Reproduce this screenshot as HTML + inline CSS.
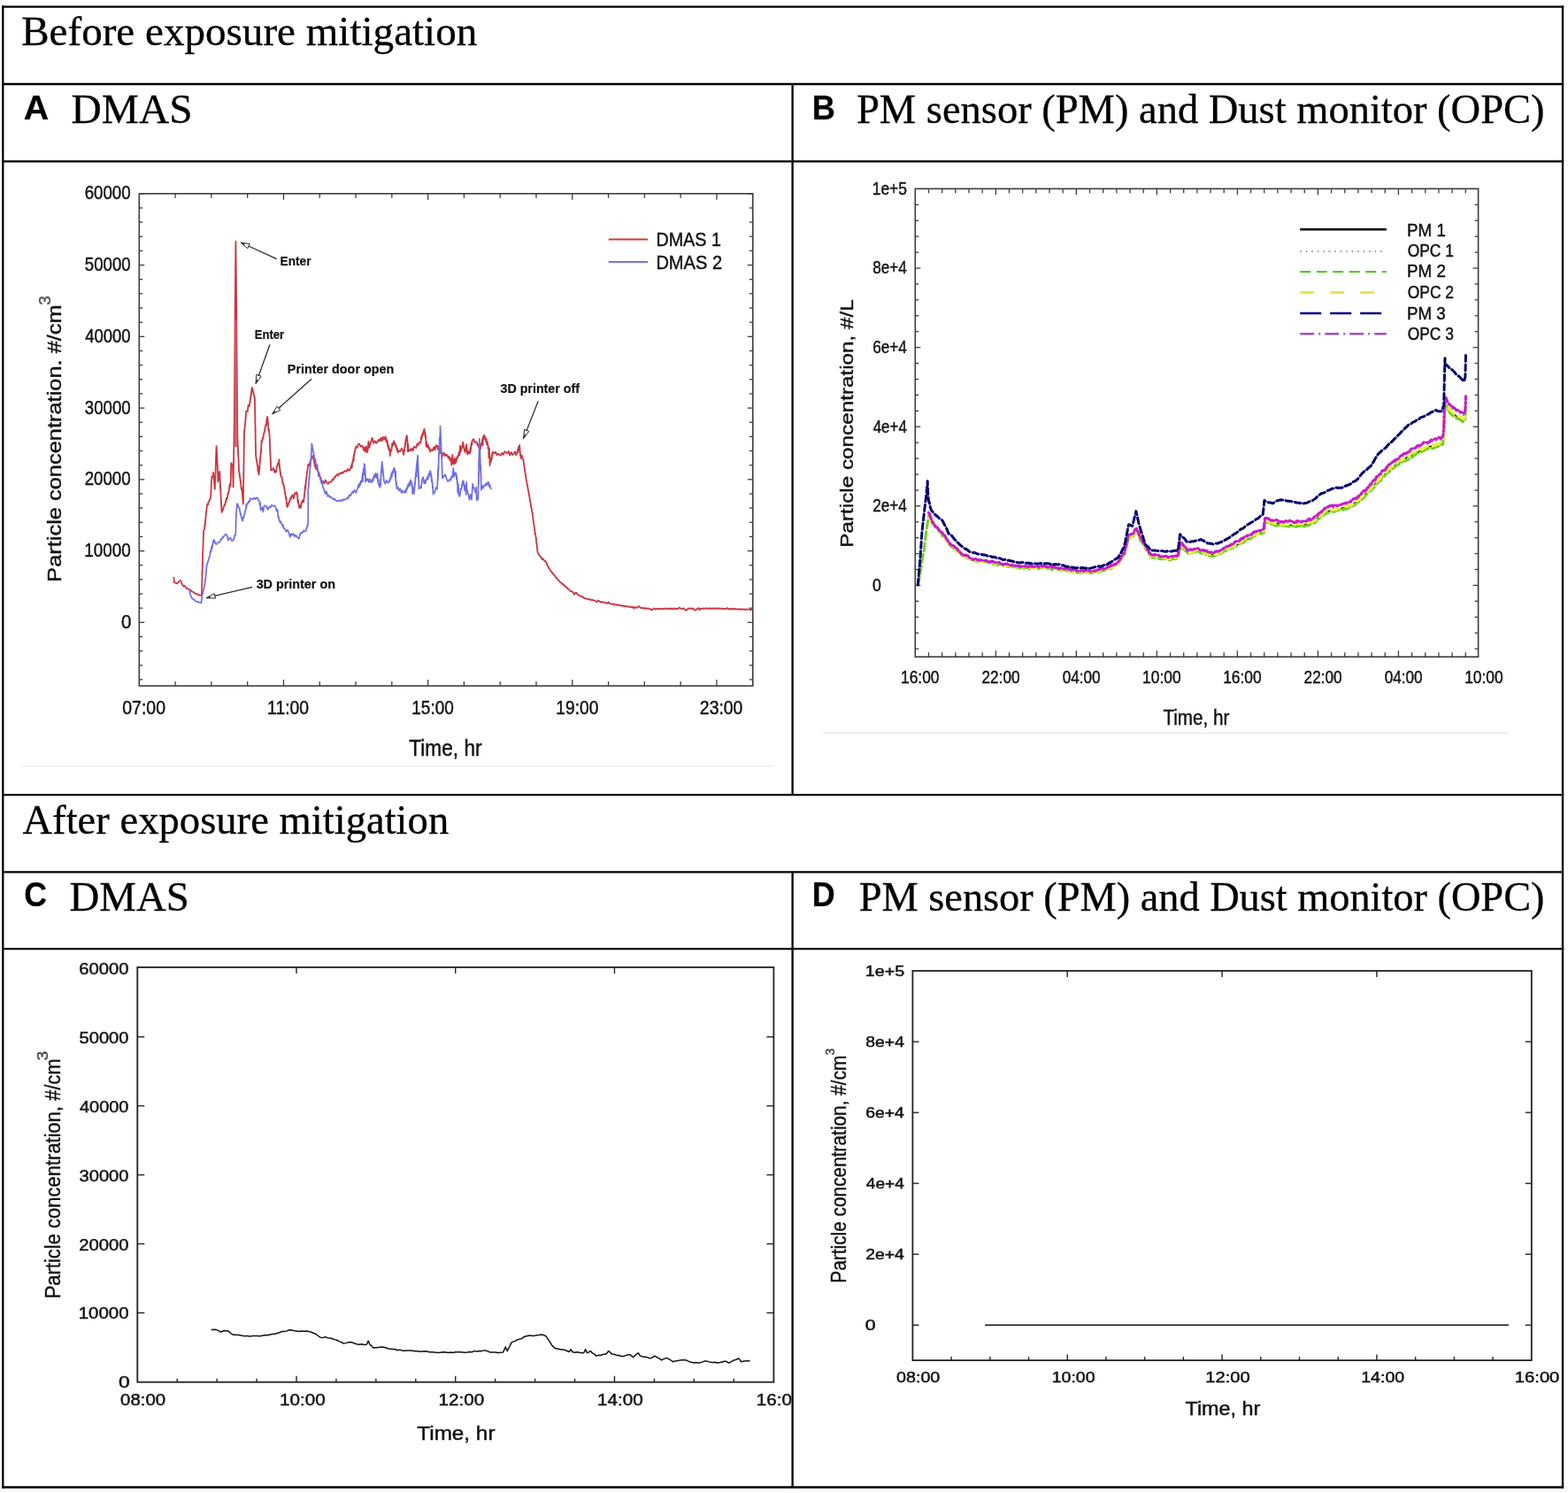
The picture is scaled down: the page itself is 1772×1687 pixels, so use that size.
<!DOCTYPE html>
<html><head><meta charset="utf-8"><title>Exposure mitigation figure</title>
<style>html,body{margin:0;padding:0;background:#fff;}svg{display:block;}</style></head>
<body><svg width="1772" height="1687" viewBox="0 0 1772 1687">
<rect x="0" y="0" width="1772" height="1687" fill="#fff"/>
<line x1="157.3" y1="767.9" x2="161.3" y2="767.9" stroke="#3c3c3c" stroke-width="1.3" />
<line x1="850.8" y1="767.9" x2="846.8" y2="767.9" stroke="#3c3c3c" stroke-width="1.3" />
<line x1="157.3" y1="751.75" x2="161.3" y2="751.75" stroke="#3c3c3c" stroke-width="1.3" />
<line x1="850.8" y1="751.75" x2="846.8" y2="751.75" stroke="#3c3c3c" stroke-width="1.3" />
<line x1="157.3" y1="735.6" x2="161.3" y2="735.6" stroke="#3c3c3c" stroke-width="1.3" />
<line x1="850.8" y1="735.6" x2="846.8" y2="735.6" stroke="#3c3c3c" stroke-width="1.3" />
<line x1="157.3" y1="719.45" x2="161.3" y2="719.45" stroke="#3c3c3c" stroke-width="1.3" />
<line x1="850.8" y1="719.45" x2="846.8" y2="719.45" stroke="#3c3c3c" stroke-width="1.3" />
<line x1="157.3" y1="703.3" x2="163.3" y2="703.3" stroke="#3c3c3c" stroke-width="1.3" />
<line x1="850.8" y1="703.3" x2="844.8" y2="703.3" stroke="#3c3c3c" stroke-width="1.3" />
<line x1="157.3" y1="687.15" x2="161.3" y2="687.15" stroke="#3c3c3c" stroke-width="1.3" />
<line x1="850.8" y1="687.15" x2="846.8" y2="687.15" stroke="#3c3c3c" stroke-width="1.3" />
<line x1="157.3" y1="671" x2="161.3" y2="671" stroke="#3c3c3c" stroke-width="1.3" />
<line x1="850.8" y1="671" x2="846.8" y2="671" stroke="#3c3c3c" stroke-width="1.3" />
<line x1="157.3" y1="654.85" x2="161.3" y2="654.85" stroke="#3c3c3c" stroke-width="1.3" />
<line x1="850.8" y1="654.85" x2="846.8" y2="654.85" stroke="#3c3c3c" stroke-width="1.3" />
<line x1="157.3" y1="638.7" x2="161.3" y2="638.7" stroke="#3c3c3c" stroke-width="1.3" />
<line x1="850.8" y1="638.7" x2="846.8" y2="638.7" stroke="#3c3c3c" stroke-width="1.3" />
<line x1="157.3" y1="622.55" x2="163.3" y2="622.55" stroke="#3c3c3c" stroke-width="1.3" />
<line x1="850.8" y1="622.55" x2="844.8" y2="622.55" stroke="#3c3c3c" stroke-width="1.3" />
<line x1="157.3" y1="606.4" x2="161.3" y2="606.4" stroke="#3c3c3c" stroke-width="1.3" />
<line x1="850.8" y1="606.4" x2="846.8" y2="606.4" stroke="#3c3c3c" stroke-width="1.3" />
<line x1="157.3" y1="590.25" x2="161.3" y2="590.25" stroke="#3c3c3c" stroke-width="1.3" />
<line x1="850.8" y1="590.25" x2="846.8" y2="590.25" stroke="#3c3c3c" stroke-width="1.3" />
<line x1="157.3" y1="574.1" x2="161.3" y2="574.1" stroke="#3c3c3c" stroke-width="1.3" />
<line x1="850.8" y1="574.1" x2="846.8" y2="574.1" stroke="#3c3c3c" stroke-width="1.3" />
<line x1="157.3" y1="557.95" x2="161.3" y2="557.95" stroke="#3c3c3c" stroke-width="1.3" />
<line x1="850.8" y1="557.95" x2="846.8" y2="557.95" stroke="#3c3c3c" stroke-width="1.3" />
<line x1="157.3" y1="541.8" x2="163.3" y2="541.8" stroke="#3c3c3c" stroke-width="1.3" />
<line x1="850.8" y1="541.8" x2="844.8" y2="541.8" stroke="#3c3c3c" stroke-width="1.3" />
<line x1="157.3" y1="525.65" x2="161.3" y2="525.65" stroke="#3c3c3c" stroke-width="1.3" />
<line x1="850.8" y1="525.65" x2="846.8" y2="525.65" stroke="#3c3c3c" stroke-width="1.3" />
<line x1="157.3" y1="509.5" x2="161.3" y2="509.5" stroke="#3c3c3c" stroke-width="1.3" />
<line x1="850.8" y1="509.5" x2="846.8" y2="509.5" stroke="#3c3c3c" stroke-width="1.3" />
<line x1="157.3" y1="493.35" x2="161.3" y2="493.35" stroke="#3c3c3c" stroke-width="1.3" />
<line x1="850.8" y1="493.35" x2="846.8" y2="493.35" stroke="#3c3c3c" stroke-width="1.3" />
<line x1="157.3" y1="477.2" x2="161.3" y2="477.2" stroke="#3c3c3c" stroke-width="1.3" />
<line x1="850.8" y1="477.2" x2="846.8" y2="477.2" stroke="#3c3c3c" stroke-width="1.3" />
<line x1="157.3" y1="461.05" x2="163.3" y2="461.05" stroke="#3c3c3c" stroke-width="1.3" />
<line x1="850.8" y1="461.05" x2="844.8" y2="461.05" stroke="#3c3c3c" stroke-width="1.3" />
<line x1="157.3" y1="444.9" x2="161.3" y2="444.9" stroke="#3c3c3c" stroke-width="1.3" />
<line x1="850.8" y1="444.9" x2="846.8" y2="444.9" stroke="#3c3c3c" stroke-width="1.3" />
<line x1="157.3" y1="428.75" x2="161.3" y2="428.75" stroke="#3c3c3c" stroke-width="1.3" />
<line x1="850.8" y1="428.75" x2="846.8" y2="428.75" stroke="#3c3c3c" stroke-width="1.3" />
<line x1="157.3" y1="412.6" x2="161.3" y2="412.6" stroke="#3c3c3c" stroke-width="1.3" />
<line x1="850.8" y1="412.6" x2="846.8" y2="412.6" stroke="#3c3c3c" stroke-width="1.3" />
<line x1="157.3" y1="396.45" x2="161.3" y2="396.45" stroke="#3c3c3c" stroke-width="1.3" />
<line x1="850.8" y1="396.45" x2="846.8" y2="396.45" stroke="#3c3c3c" stroke-width="1.3" />
<line x1="157.3" y1="380.3" x2="163.3" y2="380.3" stroke="#3c3c3c" stroke-width="1.3" />
<line x1="850.8" y1="380.3" x2="844.8" y2="380.3" stroke="#3c3c3c" stroke-width="1.3" />
<line x1="157.3" y1="364.15" x2="161.3" y2="364.15" stroke="#3c3c3c" stroke-width="1.3" />
<line x1="850.8" y1="364.15" x2="846.8" y2="364.15" stroke="#3c3c3c" stroke-width="1.3" />
<line x1="157.3" y1="348" x2="161.3" y2="348" stroke="#3c3c3c" stroke-width="1.3" />
<line x1="850.8" y1="348" x2="846.8" y2="348" stroke="#3c3c3c" stroke-width="1.3" />
<line x1="157.3" y1="331.85" x2="161.3" y2="331.85" stroke="#3c3c3c" stroke-width="1.3" />
<line x1="850.8" y1="331.85" x2="846.8" y2="331.85" stroke="#3c3c3c" stroke-width="1.3" />
<line x1="157.3" y1="315.7" x2="161.3" y2="315.7" stroke="#3c3c3c" stroke-width="1.3" />
<line x1="850.8" y1="315.7" x2="846.8" y2="315.7" stroke="#3c3c3c" stroke-width="1.3" />
<line x1="157.3" y1="299.55" x2="163.3" y2="299.55" stroke="#3c3c3c" stroke-width="1.3" />
<line x1="850.8" y1="299.55" x2="844.8" y2="299.55" stroke="#3c3c3c" stroke-width="1.3" />
<line x1="157.3" y1="283.4" x2="161.3" y2="283.4" stroke="#3c3c3c" stroke-width="1.3" />
<line x1="850.8" y1="283.4" x2="846.8" y2="283.4" stroke="#3c3c3c" stroke-width="1.3" />
<line x1="157.3" y1="267.25" x2="161.3" y2="267.25" stroke="#3c3c3c" stroke-width="1.3" />
<line x1="850.8" y1="267.25" x2="846.8" y2="267.25" stroke="#3c3c3c" stroke-width="1.3" />
<line x1="157.3" y1="251.1" x2="161.3" y2="251.1" stroke="#3c3c3c" stroke-width="1.3" />
<line x1="850.8" y1="251.1" x2="846.8" y2="251.1" stroke="#3c3c3c" stroke-width="1.3" />
<line x1="157.3" y1="234.95" x2="161.3" y2="234.95" stroke="#3c3c3c" stroke-width="1.3" />
<line x1="850.8" y1="234.95" x2="846.8" y2="234.95" stroke="#3c3c3c" stroke-width="1.3" />
<line x1="157.3" y1="218.8" x2="163.3" y2="218.8" stroke="#3c3c3c" stroke-width="1.3" />
<line x1="850.8" y1="218.8" x2="844.8" y2="218.8" stroke="#3c3c3c" stroke-width="1.3" />
<line x1="198.09" y1="218.8" x2="198.09" y2="223.8" stroke="#3c3c3c" stroke-width="1.3" />
<line x1="198.09" y1="775" x2="198.09" y2="770" stroke="#3c3c3c" stroke-width="1.3" />
<line x1="238.88" y1="218.8" x2="238.88" y2="223.8" stroke="#3c3c3c" stroke-width="1.3" />
<line x1="238.88" y1="775" x2="238.88" y2="770" stroke="#3c3c3c" stroke-width="1.3" />
<line x1="279.67" y1="218.8" x2="279.67" y2="223.8" stroke="#3c3c3c" stroke-width="1.3" />
<line x1="279.67" y1="775" x2="279.67" y2="770" stroke="#3c3c3c" stroke-width="1.3" />
<line x1="320.46" y1="218.8" x2="320.46" y2="225.8" stroke="#3c3c3c" stroke-width="1.3" />
<line x1="320.46" y1="775" x2="320.46" y2="768" stroke="#3c3c3c" stroke-width="1.3" />
<line x1="361.25" y1="218.8" x2="361.25" y2="223.8" stroke="#3c3c3c" stroke-width="1.3" />
<line x1="361.25" y1="775" x2="361.25" y2="770" stroke="#3c3c3c" stroke-width="1.3" />
<line x1="402.04" y1="218.8" x2="402.04" y2="223.8" stroke="#3c3c3c" stroke-width="1.3" />
<line x1="402.04" y1="775" x2="402.04" y2="770" stroke="#3c3c3c" stroke-width="1.3" />
<line x1="442.83" y1="218.8" x2="442.83" y2="223.8" stroke="#3c3c3c" stroke-width="1.3" />
<line x1="442.83" y1="775" x2="442.83" y2="770" stroke="#3c3c3c" stroke-width="1.3" />
<line x1="483.62" y1="218.8" x2="483.62" y2="225.8" stroke="#3c3c3c" stroke-width="1.3" />
<line x1="483.62" y1="775" x2="483.62" y2="768" stroke="#3c3c3c" stroke-width="1.3" />
<line x1="524.41" y1="218.8" x2="524.41" y2="223.8" stroke="#3c3c3c" stroke-width="1.3" />
<line x1="524.41" y1="775" x2="524.41" y2="770" stroke="#3c3c3c" stroke-width="1.3" />
<line x1="565.2" y1="218.8" x2="565.2" y2="223.8" stroke="#3c3c3c" stroke-width="1.3" />
<line x1="565.2" y1="775" x2="565.2" y2="770" stroke="#3c3c3c" stroke-width="1.3" />
<line x1="605.99" y1="218.8" x2="605.99" y2="223.8" stroke="#3c3c3c" stroke-width="1.3" />
<line x1="605.99" y1="775" x2="605.99" y2="770" stroke="#3c3c3c" stroke-width="1.3" />
<line x1="646.78" y1="218.8" x2="646.78" y2="225.8" stroke="#3c3c3c" stroke-width="1.3" />
<line x1="646.78" y1="775" x2="646.78" y2="768" stroke="#3c3c3c" stroke-width="1.3" />
<line x1="687.57" y1="218.8" x2="687.57" y2="223.8" stroke="#3c3c3c" stroke-width="1.3" />
<line x1="687.57" y1="775" x2="687.57" y2="770" stroke="#3c3c3c" stroke-width="1.3" />
<line x1="728.36" y1="218.8" x2="728.36" y2="223.8" stroke="#3c3c3c" stroke-width="1.3" />
<line x1="728.36" y1="775" x2="728.36" y2="770" stroke="#3c3c3c" stroke-width="1.3" />
<line x1="769.15" y1="218.8" x2="769.15" y2="223.8" stroke="#3c3c3c" stroke-width="1.3" />
<line x1="769.15" y1="775" x2="769.15" y2="770" stroke="#3c3c3c" stroke-width="1.3" />
<line x1="809.94" y1="218.8" x2="809.94" y2="225.8" stroke="#3c3c3c" stroke-width="1.3" />
<line x1="809.94" y1="775" x2="809.94" y2="768" stroke="#3c3c3c" stroke-width="1.3" />
<rect x="157.3" y="218.8" width="693.5" height="556.2" fill="none" stroke="#3c3c3c" stroke-width="1.6"/>
<text x="136.98" y="709.9" style="font-family:'Liberation Sans',Arial,sans-serif;font-size:22.6px" fill="#111" stroke="#111" stroke-width="0.45" textLength="11.47" lengthAdjust="spacingAndGlyphs" >0</text>
<text x="95.18" y="629.15" style="font-family:'Liberation Sans',Arial,sans-serif;font-size:22.6px" fill="#111" stroke="#111" stroke-width="0.45" textLength="52.49" lengthAdjust="spacingAndGlyphs" >10000</text>
<text x="95.66" y="548.4" style="font-family:'Liberation Sans',Arial,sans-serif;font-size:22.6px" fill="#111" stroke="#111" stroke-width="0.45" textLength="52.01" lengthAdjust="spacingAndGlyphs" >20000</text>
<text x="95.85" y="467.65" style="font-family:'Liberation Sans',Arial,sans-serif;font-size:22.6px" fill="#111" stroke="#111" stroke-width="0.45" textLength="51.81" lengthAdjust="spacingAndGlyphs" >30000</text>
<text x="96.23" y="386.9" style="font-family:'Liberation Sans',Arial,sans-serif;font-size:22.6px" fill="#111" stroke="#111" stroke-width="0.45" textLength="51.43" lengthAdjust="spacingAndGlyphs" >40000</text>
<text x="95.85" y="306.15" style="font-family:'Liberation Sans',Arial,sans-serif;font-size:22.6px" fill="#111" stroke="#111" stroke-width="0.45" textLength="51.81" lengthAdjust="spacingAndGlyphs" >50000</text>
<text x="95.66" y="225.4" style="font-family:'Liberation Sans',Arial,sans-serif;font-size:22.6px" fill="#111" stroke="#111" stroke-width="0.45" textLength="52.01" lengthAdjust="spacingAndGlyphs" >60000</text>
<text x="138.22" y="806.6" style="font-family:'Liberation Sans',Arial,sans-serif;font-size:22.6px" fill="#111" stroke="#111" stroke-width="0.45" textLength="48.81" lengthAdjust="spacingAndGlyphs" >07:00</text>
<text x="302.05" y="806.6" style="font-family:'Liberation Sans',Arial,sans-serif;font-size:22.6px" fill="#111" stroke="#111" stroke-width="0.45" textLength="47.1" lengthAdjust="spacingAndGlyphs" >11:00</text>
<text x="465.27" y="806.6" style="font-family:'Liberation Sans',Arial,sans-serif;font-size:22.6px" fill="#111" stroke="#111" stroke-width="0.45" textLength="47.64" lengthAdjust="spacingAndGlyphs" >15:00</text>
<text x="628.36" y="806.6" style="font-family:'Liberation Sans',Arial,sans-serif;font-size:22.6px" fill="#111" stroke="#111" stroke-width="0.45" textLength="48.06" lengthAdjust="spacingAndGlyphs" >19:00</text>
<text x="790.83" y="806.6" style="font-family:'Liberation Sans',Arial,sans-serif;font-size:22.6px" fill="#111" stroke="#111" stroke-width="0.45" textLength="48.6" lengthAdjust="spacingAndGlyphs" >23:00</text>
<text x="462.35" y="854.4" style="font-family:'Liberation Sans',Arial,sans-serif;font-size:25.2px" fill="#111" stroke="#111" stroke-width="0.45" textLength="82.21" lengthAdjust="spacingAndGlyphs" >Time, hr</text>
<text transform="translate(68.6,655.8) rotate(-90)" x="-2.03" y="0" style="font-family:'Liberation Sans',Arial,sans-serif;font-size:22.8px" fill="#111" stroke="#111" stroke-width="0.4" textLength="313.56" lengthAdjust="spacingAndGlyphs">Particle concentration. #/cm</text>
<text transform="translate(56.6,344) rotate(-90)" x="-0.76" y="0" style="font-family:'Liberation Sans',Arial,sans-serif;font-size:17.5px" fill="#555" stroke="#555" stroke-width="0.4" textLength="10.54" lengthAdjust="spacingAndGlyphs">3</text>
<line x1="687.8" y1="270.5" x2="732" y2="270.5" stroke="#d0393f" stroke-width="2" />
<line x1="687.8" y1="296" x2="732" y2="296" stroke="#7373e6" stroke-width="2" />
<text x="741.42" y="278.2" style="font-family:'Liberation Sans',Arial,sans-serif;font-size:22.3px" fill="#111" stroke="#111" stroke-width="0.45" textLength="73.53" lengthAdjust="spacingAndGlyphs" >DMAS 1</text>
<text x="741.4" y="303.6" style="font-family:'Liberation Sans',Arial,sans-serif;font-size:22.3px" fill="#111" stroke="#111" stroke-width="0.45" textLength="74.67" lengthAdjust="spacingAndGlyphs" >DMAS 2</text>
<line x1="25" y1="865.5" x2="872" y2="865.5" stroke="#e8e8e8" stroke-width="1.2" />
<polyline points="196.4,652.6 196.53,654 196.65,655.4 196.78,656.8 196.9,658.2 198.35,658.57 199.8,659.3 201.1,658.35 202.4,656.83 203.7,656 204.47,656.57 205.23,658.85 206,660.5 207.32,662.36 208.63,661.82 209.95,663.61 211.27,665.11 212.58,665.44 213.9,666 215.3,666.7 216.7,668.36 218.1,668.59 219.5,670 220.86,670.94 222.22,671 223.58,672.1 224.94,671.99 226.3,672.9 228,671.7 228.03,670.27 228.07,668.85 228.1,667.42 228.13,665.99 228.17,664.57 228.2,663.14 228.23,661.71 228.27,660.29 228.3,658.86 228.33,657.43 228.37,656.01 228.4,654.58 228.43,653.15 228.47,651.73 228.5,650.3 228.54,648.89 228.57,647.47 228.61,646.06 228.65,644.65 228.69,643.24 228.72,641.83 228.76,640.41 228.8,639 228.84,637.59 228.88,636.17 228.91,634.76 228.95,633.35 228.99,631.94 229.03,630.53 229.06,629.11 229.1,627.7 229.15,626.29 229.2,624.88 229.25,623.48 229.3,622.07 229.35,620.66 229.4,619.25 229.45,617.84 229.5,616.43 229.55,615.02 229.6,613.62 229.65,612.21 229.7,610.8 229.76,609.39 229.82,607.97 229.89,606.56 229.95,605.15 230.01,603.74 230.07,602.33 230.14,600.91 230.2,599.5 231,597.8 231.16,597.54 231.32,593.55 231.48,594.05 231.64,590.81 231.81,594.04 231.97,587.96 232.13,589.07 232.29,585.41 232.45,585.24 232.61,582.94 232.77,583.03 232.93,579.1 233.09,580.05 233.26,576.53 233.42,577.31 233.58,573.75 233.74,573.54 233.9,571.7 234.5,569.31 235.1,570.25 235.7,566.92 236.3,566.67 236.9,564.48 237.5,564.03 238.1,562.3 238.17,560.35 238.25,560.1 238.32,557.45 238.4,557.31 238.47,553.66 238.55,554.04 238.62,551.21 238.7,551.84 238.78,548.45 238.85,548.07 238.93,545.03 239,544.85 239.08,542.31 239.15,542.95 239.23,539.18 239.3,538.6 239.9,538.08 240.5,538.63 241.1,533.8 241.23,536.12 241.36,536.19 241.49,539 241.62,538.65 241.75,542.06 241.88,541.19 242.02,544.43 242.15,544.75 242.28,548.34 242.41,547.56 242.54,550.74 242.67,550.48 242.8,552.8 242.85,551.85 242.91,548.79 242.96,549.61 243.01,546.53 243.06,546.38 243.12,542.88 243.17,543.45 243.22,540.94 243.28,540.84 243.33,537.79 243.38,538 243.44,534.61 243.49,535.42 243.54,532.25 243.59,532.13 243.65,529.39 243.7,529.64 243.75,525.87 243.81,526.18 243.86,523.51 243.91,523.91 243.96,519.94 244.02,517.05 244.07,517.95 244.12,518.39 244.18,514.78 244.23,515.42 244.28,508.48 244.34,512.51 244.39,509.4 244.44,509.18 244.49,505.65 244.55,506.4 244.6,504.2 244.67,504.47 244.75,507.47 244.82,507.09 244.9,510.31 244.97,509.81 245.05,513.35 245.12,513.58 245.2,511.95 245.28,516.05 245.35,519.51 245.43,519.07 245.5,521.66 245.58,521.87 245.65,524.35 245.73,524.58 245.8,526.7 245.85,528.18 245.9,529.67 245.95,531.15 246,532.63 246.05,534.12 246.1,535.6 246.15,537.08 246.2,538.57 246.25,540.05 246.3,541.53 246.35,543.02 246.4,544.5 246.62,543.99 246.85,540.73 247.07,540.92 247.3,537.64 247.53,541.08 247.75,534.39 247.97,534.57 248.2,532.6 248.27,534.09 248.35,535.58 248.43,537.06 248.5,538.55 248.57,540.04 248.65,541.52 248.73,543.01 248.8,544.5 248.87,545.48 248.94,551.4 249.01,547.85 249.08,550.86 249.15,550.78 249.23,554.27 249.3,553.72 249.37,556.85 249.44,556.3 249.51,559.75 249.58,558.89 249.65,563 249.72,562.52 249.79,565.94 249.86,565.53 249.93,568.25 250,565.58 250.07,570.96 250.15,570.54 250.22,574.21 250.29,574 250.36,576.88 250.43,577.04 250.5,578.9 251.03,578.06 251.55,575.65 252.07,576.32 252.6,572.76 253.12,572.64 253.65,570.18 254.17,570.65 254.7,568.2 255.09,565.95 255.49,566.9 255.88,562.81 256.27,564.11 256.67,563.95 257.06,560.74 257.45,557.98 257.85,558.66 258.24,555.59 258.63,555.69 259.03,552.97 259.42,548.76 259.81,546.97 260.21,549.76 260.6,548 260.64,546.54 260.67,545.07 260.71,543.61 260.74,542.14 260.78,540.68 260.81,539.21 260.85,537.75 260.88,536.28 260.92,534.82 260.95,533.35 260.99,531.89 261.02,530.42 261.06,528.96 261.09,527.49 261.13,526.03 261.16,524.56 261.2,523.1 262.1,524.51 263,526.7 263.04,528.18 263.07,529.66 263.11,531.14 263.15,532.62 263.19,534.11 263.23,535.59 263.26,537.07 263.3,538.55 263.34,540.03 263.38,541.51 263.41,542.99 263.45,544.48 263.49,545.96 263.53,547.44 263.56,548.92 263.6,550.4 263.62,549.81 263.65,546.63 263.67,546.78 263.69,543.84 263.72,543.78 263.74,541.54 263.76,541.18 263.78,537.92 263.81,538.56 263.83,535.56 263.85,537.33 263.88,529.97 263.9,532.85 263.92,529.56 263.95,530.13 263.97,526.38 263.99,526.93 264.02,524.42 264.04,524.68 264.06,520.7 264.08,521.97 264.11,522.6 264.13,522.1 264.15,515.84 264.18,515.71 264.2,513.15 264.22,512.85 264.25,509.41 264.27,510 264.29,507.33 264.32,506.9 264.34,504.32 264.36,504.3 264.38,502.02 264.41,501.35 264.43,499.15 264.45,501.81 264.48,492.92 264.5,496.58 264.52,493.18 264.55,492.94 264.57,489.99 264.59,493.55 264.62,487.73 264.64,487.68 264.66,484.16 264.68,484.94 264.71,481.47 264.73,481.72 264.75,476 264.78,479.06 264.8,476.9 264.81,475.11 264.82,470.67 264.83,468.72 264.84,472.19 264.85,469.46 264.86,469.05 264.87,469.93 264.88,466.21 264.89,463.39 264.9,463.22 264.91,460.77 264.92,457.44 264.93,457.99 264.93,457.84 264.94,455.44 264.95,458.79 264.96,449.15 264.97,452.45 264.98,449.3 264.99,450.05 265,445.91 265.01,446.25 265.02,443.27 265.03,443.92 265.04,441.13 265.05,440.84 265.06,438.39 265.07,438.85 265.08,434.82 265.09,435.96 265.1,432.66 265.11,432.69 265.12,426.05 265.13,429.79 265.14,426.82 265.15,426.65 265.16,424.1 265.17,424.15 265.18,421.43 265.19,423.49 265.2,423.63 265.2,418.47 265.21,415.71 265.22,412.42 265.23,412.49 265.24,413.52 265.25,410.03 265.26,410.49 265.27,407.53 265.28,407.25 265.29,404.13 265.3,404.07 265.31,401.47 265.32,401.32 265.33,398.57 265.34,398.96 265.35,395.83 265.36,395.82 265.37,392.75 265.38,392.98 265.39,389.92 265.4,390.62 265.41,391.71 265.42,387.45 265.43,384.55 265.44,384.54 265.45,381.59 265.46,381.86 265.47,379.17 265.47,381.51 265.48,376.35 265.49,376.66 265.5,373.12 265.51,373.77 265.52,370.06 265.53,370.28 265.54,367.7 265.55,367.85 265.56,364.4 265.57,364.69 265.58,361.64 265.59,362.81 265.6,360 265.61,358.6 265.63,357.19 265.64,355.79 265.65,354.39 265.66,352.98 265.68,351.58 265.69,350.18 265.7,348.77 265.72,347.37 265.73,345.97 265.74,344.56 265.75,343.16 265.77,341.76 265.78,340.35 265.79,338.95 265.81,337.55 265.82,336.15 265.83,334.74 265.85,333.34 265.86,331.94 265.87,330.53 265.88,329.13 265.9,327.73 265.91,326.32 265.92,324.92 265.94,323.52 265.95,322.11 265.96,320.71 265.97,319.31 265.99,317.9 266,316.5 266.01,315.1 266.03,313.69 266.04,312.29 266.05,310.89 266.06,309.48 266.08,308.08 266.09,306.68 266.1,305.27 266.12,303.87 266.13,302.47 266.14,301.06 266.15,299.66 266.17,298.26 266.18,296.85 266.19,295.45 266.21,294.05 266.22,292.65 266.23,291.24 266.25,289.84 266.26,288.44 266.27,287.03 266.28,285.63 266.3,284.23 266.31,282.82 266.32,281.42 266.34,280.02 266.35,278.61 266.36,277.21 266.37,275.81 266.39,274.4 266.4,273 266.41,274 266.43,277.17 266.44,276.37 266.46,279.81 266.47,279.53 266.49,281.86 266.5,281.72 266.52,285.55 266.53,283.23 266.55,287.99 266.56,292.84 266.57,290.75 266.59,290.07 266.6,296.14 266.62,293.29 266.63,296.44 266.65,301.33 266.66,298.93 266.68,299.07 266.69,302 266.7,306.33 266.72,304.22 266.73,304.2 266.75,307.29 266.76,306.72 266.78,309.84 266.79,310.1 266.81,312.83 266.82,312.55 266.84,315.65 266.85,315.83 266.86,318.48 266.88,318.13 266.89,322.1 266.91,321.58 266.92,324.3 266.94,323.54 266.95,327.08 266.97,326.31 266.98,329.51 267,333.87 267.01,332.61 267.02,332.93 267.04,335.28 267.05,335.24 267.07,338.22 267.08,337.69 267.1,341.17 267.11,341.35 267.13,347.55 267.14,343.16 267.15,346.69 267.17,346.13 267.18,349.15 267.2,349.44 267.21,352.12 267.23,351.66 267.24,357.3 267.26,355.02 267.27,358.03 267.29,358.21 267.3,360 267.31,361.8 267.32,362.09 267.33,365.62 267.34,369.96 267.35,368.18 267.36,367.24 267.38,370.26 267.39,370.84 267.4,373.53 267.41,372.89 267.42,376.74 267.43,376.04 267.44,382.44 267.45,378.74 267.46,381.82 267.47,381.36 267.48,380.75 267.49,384.6 267.5,387.64 267.52,387.69 267.53,390.04 267.54,388.18 267.55,393.85 267.56,393.32 267.57,396.08 267.58,396.07 267.59,399.25 267.6,398.28 267.61,401.51 267.62,401.69 267.63,404.51 267.64,404.53 267.65,407.86 267.67,407.54 267.68,409.93 267.69,409.7 267.7,413 267.71,410.18 267.72,416.24 267.73,416.02 267.74,418.25 267.75,417.8 267.76,421.98 267.77,420.74 267.78,424.05 267.79,423.47 267.81,427.24 267.82,427.1 267.83,429.55 267.84,429.88 267.85,432.94 267.86,432.97 267.87,435.79 267.88,435.45 267.89,438.74 267.9,438.55 267.91,441.11 267.92,440.73 267.93,439.94 267.95,443.15 267.96,446.78 267.97,450.66 267.98,452.55 267.99,449.45 268,452.44 268.01,452.59 268.02,457.81 268.03,455.52 268.04,458.31 268.05,458.26 268.06,460.82 268.07,461.01 268.08,463.81 268.1,463.87 268.11,466.95 268.12,466.59 268.13,469.92 268.14,469.09 268.15,473.94 268.16,471.68 268.17,475.22 268.18,474.58 268.19,477.54 268.2,477.46 268.21,476.62 268.22,480.64 268.24,483.97 268.25,480.26 268.26,486.22 268.27,485.6 268.28,489.33 268.29,489.09 268.3,491.1 268.36,493.26 268.42,493.44 268.49,498.76 268.55,495.81 268.61,499.51 268.67,498.92 268.73,504.41 268.8,506 268.86,504.34 268.92,504.06 268.98,507.97 269.04,512.03 269.11,510.05 269.17,508.33 269.23,513.44 269.29,512.65 269.36,516.63 269.42,516.47 269.48,519.46 269.54,518.4 269.6,522.39 269.67,521.7 269.73,524.57 269.79,524.56 269.85,527.24 269.91,527.81 269.98,530.82 270.04,530.66 270.1,532.6 270.31,534.44 270.52,534.36 270.74,538.08 270.95,537.21 271.16,540.01 271.37,539.94 271.58,543.57 271.79,542.32 272.01,545.87 272.22,545.73 272.43,549.09 272.64,552.37 272.85,552.02 273.06,550.79 273.28,554.67 273.49,554.26 273.7,556.3 273.82,558.54 273.94,558.84 274.07,561.67 274.19,559.72 274.31,564.02 274.43,564.46 274.56,567.47 274.68,566.93 274.8,569.4 274.82,568.46 274.84,565.98 274.86,565.59 274.88,562.45 274.91,563.1 274.93,560.58 274.95,560.45 274.97,557.04 274.99,558.04 275.01,554.66 275.03,554.21 275.05,551.66 275.07,551.4 275.09,549.27 275.12,549.56 275.14,546.23 275.16,546.25 275.18,542.72 275.2,543.2 275.22,540.74 275.24,540.9 275.26,537.96 275.28,538.03 275.31,534.31 275.33,534.62 275.35,532.05 275.37,535.47 275.39,528.43 275.41,528.77 275.43,525.9 275.45,526.91 275.47,523.5 275.49,524.06 275.52,518.57 275.54,521.17 275.56,518 275.58,517.62 275.6,514.67 275.62,515.53 275.64,511.42 275.66,512.35 275.68,509.1 275.71,505.29 275.73,506.22 275.75,506.33 275.77,503.95 275.79,503.42 275.81,497.83 275.83,501.53 275.85,498.34 275.87,498.32 275.89,491.94 275.92,497.27 275.94,492.12 275.96,492.93 275.98,489.1 276,488.8 276.14,488 276.28,485.64 276.42,485.94 276.56,482.78 276.71,482.83 276.85,479.93 276.99,480.04 277.13,476.9 277.27,476.91 277.41,474.43 277.55,474.74 277.69,471.01 277.84,471.24 277.98,468 278.12,464.68 278.26,465.48 278.4,465 279.12,464.87 279.84,464.91 280.56,457.74 281.28,458.94 282,457.9 282.21,456.89 282.41,453.78 282.62,454.58 282.83,451.26 283.04,451.22 283.24,447.91 283.45,448.36 283.66,445.24 283.86,446.41 284.07,443.11 284.28,442.53 284.49,439.35 284.69,440.03 284.9,437.8 285.27,438.54 285.65,441.55 286.02,441.71 286.4,444.73 286.77,444.71 287.15,447.74 287.52,447.77 287.9,449.6 287.93,451.92 287.95,451.61 287.98,454.53 288,454.18 288.03,457.27 288.06,457.06 288.08,460.41 288.11,459.77 288.13,463.37 288.16,462.36 288.19,466.19 288.21,466.02 288.24,468.64 288.27,468.01 288.29,471.92 288.32,471.79 288.34,474.35 288.37,474.49 288.4,477.87 288.42,476.64 288.45,479.7 288.47,479.97 288.5,483.62 288.53,483.27 288.55,486.18 288.58,482.16 288.6,488.83 288.63,488.5 288.66,491.83 288.68,490.93 288.71,494.81 288.73,493.92 288.76,497.04 288.79,497.36 288.81,500.4 288.84,499.6 288.87,502.84 288.89,502.44 288.92,505.95 288.94,505.77 288.97,508.9 289,508.26 289.02,510.91 289.05,511.47 289.07,514.76 289.1,514.8 289.33,515.79 289.57,518.58 289.8,518.19 290.03,521.76 290.27,521.15 290.5,523.92 290.73,524.03 290.97,526.67 291.2,526.92 291.43,532.26 291.67,527.22 291.9,533.02 292.13,532.73 292.37,535.92 292.6,536.2 292.72,533.87 292.84,534.57 292.96,531.37 293.08,531.69 293.2,528.05 293.32,528.61 293.44,524.83 293.56,525.84 293.68,522.15 293.8,522.61 293.92,520.08 294.04,519.83 294.16,517.07 294.28,516.87 294.4,514.31 294.52,516.56 294.64,511.31 294.76,511.59 294.88,511.86 295,508.47 295.12,510.33 295.24,506.12 295.36,503.11 295.48,498.26 295.6,500.6 295.98,498.69 296.35,498.23 296.73,495.47 297.1,496.03 297.48,492.72 297.85,492.75 298.23,489.21 298.6,488.8 298.89,488.52 299.18,485.29 299.48,485.26 299.77,482.06 300.06,482.33 300.35,479.32 300.64,479.29 300.93,481.22 301.23,476.05 301.52,472.98 301.81,472.98 302.1,471 302.27,471.34 302.44,474.52 302.61,474.51 302.79,477.82 302.96,477.45 303.13,479.96 303.3,485.13 303.47,485.89 303.64,483.56 303.81,486.38 303.99,485.51 304.16,489.08 304.33,488.48 304.5,491.1 304.56,493.35 304.63,493.04 304.69,496.07 304.76,496.08 304.82,498.92 304.89,498.32 304.95,502.38 305.01,501.94 305.08,505.03 305.14,504.29 305.21,510.47 305.27,511 305.34,513.48 305.4,510.05 305.46,513.69 305.53,513.11 305.59,516.56 305.66,516.45 305.72,519.28 305.79,519.45 305.85,521.69 305.91,521.42 305.98,524.94 306.04,524.44 306.11,527.69 306.17,527.73 306.24,530.76 306.3,531.4 307.67,530.83 309.03,528.88 310.4,533.8 310.93,531.7 311.47,531.95 312,533.5 312.53,529.61 313.07,526.06 313.6,526.35 314.13,523.3 314.67,524.11 315.2,522 315.41,519.06 315.62,525.58 315.83,525.68 316.04,528.99 316.25,528.39 316.45,531.78 316.66,531.47 316.87,535.24 317.08,534.64 317.29,538.16 317.5,538.6 317.95,538.73 318.4,539.13 318.85,539.82 319.3,545.49 319.75,544.72 320.2,548.12 320.65,547.79 321.1,550.4 321.32,552.31 321.54,552.76 321.76,555.12 321.98,555.17 322.19,558.26 322.41,557.67 322.63,560.88 322.85,560.6 323.07,564.05 323.29,563.33 323.51,562.22 323.73,566.48 323.94,569.42 324.16,569.09 324.38,572.72 324.6,572.9 325.13,571.27 325.67,571.07 326.2,567.73 326.73,568.02 327.27,565.12 327.8,565.99 328.33,562.45 328.87,563.5 329.4,561.1 330.58,559.43 331.76,563.24 332.94,557.06 334.12,557.84 335.3,556.3 335.55,556.7 335.8,559.82 336.05,559.59 336.3,563.07 336.55,567.72 336.8,566.17 337.05,565.37 337.3,569.02 337.55,569.12 337.8,571.66 338.05,571.89 338.3,574.1 338.89,573.56 339.48,570.99 340.07,573.34 340.66,567.83 341.24,568.04 341.83,565.53 342.42,565.27 343.01,567.23 343.6,562.3 343.77,562.26 343.94,559.08 344.1,559.1 344.27,556.25 344.44,556.02 344.61,553.18 344.78,548.97 344.95,550.3 345.11,551.08 345.28,552.66 345.45,547.37 345.62,544.97 345.79,546.94 345.95,542.03 346.12,542.5 346.29,538.6 346.46,538.96 346.63,536.83 346.8,536.4 346.96,533.24 347.13,533.86 347.3,531.6 347.79,529.46 348.28,524.86 348.77,526.22 349.26,526.17 349.74,523.66 350.23,523.66 350.72,520.75 351.21,520.95 351.7,518.4 353.2,515.09 354.7,519.9 355.24,522.62 355.77,527.07 356.31,525.11 356.85,529.9 357.39,528.04 357.93,527.43 358.46,531.16 359,531.6 359.5,532.34 360,537.77 360.5,534.24 361,537.63 361.5,537.53 362,540.16 362.5,539.91 363,543.42 363.5,543.4 364.95,543.43 366.4,546.3 367.86,542.44 369.32,545.25 370.78,546.81 372.24,544.49 373.7,544.8 374.68,544.17 375.67,541.58 376.65,542.4 377.63,539.45 378.62,539.53 379.6,537.5 380.86,535.98 382.11,537.45 383.37,534.97 384.63,535.35 385.89,533.73 387.14,534.99 388.4,533.1 389.88,531.94 391.36,532.93 392.84,530.04 394.32,531.95 395.8,530.2 396.28,528.26 396.77,528.29 397.25,525.13 397.73,528.48 398.22,521.97 398.7,521.4 398.99,520.57 399.28,517.08 399.57,521.28 399.86,514.22 400.15,515.04 400.44,511.21 400.73,512.49 401.02,509.03 401.31,509.71 401.6,506.7 402.6,504.38 403.6,506.08 404.6,502.3 406.07,501.49 407.53,504.63 409,503.7 409.97,504.2 410.93,508.77 411.9,505.72 412.87,510.36 413.83,504.49 414.8,511.1 415.35,510.44 415.9,505.83 416.45,498.56 417,504.05 417.55,505.66 418.1,501.15 418.65,502.11 419.2,499.3 420.68,494.62 422.16,500.94 423.64,498.11 425.12,500.75 426.6,499.3 427.86,496.63 429.11,498.55 430.37,494.65 431.63,498.32 432.89,493.74 434.14,496.69 435.4,493.5 435.85,493.42 436.29,498.44 436.74,496.46 437.18,500.43 437.63,497.98 438.08,503.93 438.52,502.26 438.97,506.94 439.42,504.56 439.86,508.97 440.31,506.68 440.75,515.03 441.2,511.1 441.75,508.55 442.3,509.58 442.85,505.12 443.4,500.57 443.95,502.57 444.5,503.42 445.05,498.23 445.6,499.3 446.15,501.9 446.7,500.74 447.25,504.93 447.8,503.24 448.35,508.52 448.9,506.47 449.45,511.2 450,511.1 451.23,509.21 452.47,510.01 453.7,506.7 454.93,508.28 456.17,513.96 457.4,505.2 457.64,505.53 457.89,501.24 458.13,502.37 458.38,497.45 458.62,499.12 458.87,495.33 459.11,496.34 459.36,492.84 459.6,492 459.78,495.88 459.97,493.16 460.15,497.6 460.33,496.65 460.52,500.27 460.7,507.02 460.88,510.02 461.07,501.53 461.25,507.88 461.43,504.11 461.62,510.14 461.8,509.6 463.02,507.84 464.23,509.31 465.45,506.6 466.67,509.2 467.88,504.77 469.1,505.2 470.28,505.95 471.46,501.37 472.64,503.12 473.82,499.63 475,499.3 475.44,500.53 475.88,494 476.32,496.82 476.76,491.07 477.2,493.2 477.64,489.2 478.08,490.93 478.52,487.01 478.96,488.84 479.4,484.7 479.64,484.94 479.88,489.92 480.12,487.71 480.37,492.89 480.61,489.4 480.85,494.61 481.09,492.33 481.33,499.04 481.57,504.6 481.82,501.9 482.06,499.1 482.3,502.3 483.03,505.2 483.77,502.69 484.5,507.3 485.23,505.83 485.97,510.4 486.7,509.6 487.93,507.81 489.17,509.08 490.4,504.84 491.63,508.29 492.87,503.16 494.1,503.7 494.73,507.66 495.36,504.53 495.99,508.47 496.61,506.13 497.24,511.73 497.87,508.85 498.5,512.6 499.96,515.5 501.42,511.29 502.88,515.27 504.34,513.25 505.8,515.5 506.71,517.6 507.62,515.78 508.54,520.14 509.45,517.96 510.36,525.54 511.28,514.02 512.19,524.01 513.1,524.3 513.74,517.78 514.37,523.55 515.01,518.57 515.64,521.97 516.28,516.55 516.91,517.69 517.55,514.68 518.19,515.2 518.82,510.66 519.46,514.02 520.09,503.3 520.73,510.12 521.36,506.78 522,506.7 523.26,499.69 524.51,507.65 525.77,511.14 527.03,502.1 528.29,513.53 529.54,509.85 530.8,512.6 531.09,511.82 531.38,507.27 531.67,510.68 531.96,505.48 532.25,507.87 532.54,501.19 532.83,503.73 533.12,499.78 533.41,501.81 533.7,497.9 535.17,496.1 536.63,499.8 538.1,499.3 538.83,499.54 539.57,502.98 540.3,502.16 541.03,505.64 541.77,504.73 542.5,506.7 542.94,507.56 543.38,502.65 543.82,503.49 544.26,500.15 544.7,500.67 545.14,495.8 545.58,503.03 546.02,493.17 546.46,495.74 546.9,492 547.45,491.91 548,496.03 548.55,494.04 549.1,498.75 549.65,496.03 550.2,502.3 550.75,499.16 551.3,502.3 551.51,506.44 551.71,503.78 551.92,507.56 552.13,506.13 552.34,516.99 552.54,510.43 552.75,513.45 552.96,506.81 553.16,516.56 553.37,514.47 553.58,526.05 553.79,518.87 553.99,522.12 554.2,522.8 554.58,519.02 554.95,521.22 555.33,516.84 555.7,518.87 556.08,512.92 556.45,515.39 556.83,510.51 557.2,511.1 558.66,512.33 560.12,510.69 561.58,514.28 563.04,512.61 564.5,514 565.96,514.59 567.42,511.78 568.88,513.71 570.34,510.18 571.8,511.1 573.27,512.28 574.73,509.84 576.2,514.43 577.67,511.02 579.13,514.04 580.6,512.6 581.97,510.09 583.33,514.16 584.7,511.1 585.12,507.53 585.53,510.86 585.95,505.17 586.37,508.28 586.78,503.59 587.2,502.9 587.3,504.34 587.4,505.77 587.5,507.21 587.6,508.65 587.7,510.09 587.8,511.52 587.9,512.96 588,514.4 588.83,517.86 589.65,514.33 590.47,518.51 591.3,519.3 591.51,520.34 591.73,522.48 591.94,523.04 592.15,525.24 592.37,525.99 592.58,528.2 592.79,528.84 593.01,531.06 593.22,531.63 593.43,533.7 593.65,534.45 593.86,536.53 594.07,537.31 594.29,539.41 594.5,540.6 594.75,541.79 595.01,543.53 595.26,544.58 595.52,546.46 595.77,547.11 596.02,549.91 596.28,549.88 596.53,552.09 596.78,552.84 597.04,554.62 597.29,555.32 597.55,557.4 597.8,558.13 598.05,560.19 598.31,561.24 598.56,562.89 598.82,563.89 599.07,565.77 599.32,566.72 599.58,568.65 599.83,569.32 600.08,573.01 600.34,572.27 600.59,574.45 600.85,575.02 601.1,576.6 601.3,578.38 601.51,579.05 601.71,579.25 601.92,581.72 602.12,584.01 602.33,584.97 602.53,588.42 602.73,587.8 602.94,590.02 603.14,590.67 603.35,592.87 603.55,593.45 603.75,595.72 603.96,596.29 604.16,598.36 604.37,599.21 604.57,602.77 604.77,601.94 604.98,603.97 605.18,604.76 605.39,605.41 605.59,607.43 605.8,607.65 606,610.9 606.18,612.11 606.36,613.97 606.53,614.72 606.71,616.93 606.89,616.66 607.07,619.94 607.24,620.62 607.42,623.13 607.6,624 608.45,625.37 609.3,627.3 610.38,628.8 611.47,629.23 612.55,632.07 613.63,631.23 614.72,632.93 615.8,633.8 616.53,634.64 617.27,634.65 618,637.17 618.73,639.26 619.47,639.73 620.2,642.03 620.93,642.29 621.67,644.27 622.4,645.3 623.38,645.97 624.36,648.02 625.34,648.15 626.32,650.16 627.3,650.78 628.28,652.81 629.26,652.84 630.24,655.05 631.22,655.42 632.2,656.8 633.29,658.24 634.38,658.34 635.48,660.13 636.57,660.01 637.66,662.11 638.75,661.97 639.84,663.84 640.93,663.85 642.02,665.8 643.12,665.91 644.21,667.73 645.3,668.2 646.56,668.22 647.82,669.83 649.08,671.85 650.35,669.63 651.61,669.89 652.87,672.19 654.13,672.43 655.39,673.48 656.65,673.38 657.92,674.83 659.18,674.6 660.44,675.91 661.7,676.4 663.13,676.45 664.56,677.41 665.99,676.94 667.43,677.94 668.86,677.63 670.29,678.39 671.72,678.28 673.15,679.33 674.58,680.31 676.01,678.35 677.44,679.56 678.88,680.64 680.31,679.83 681.74,680.95 683.17,680.48 684.6,681.3 686.04,681.9 687.48,680.29 688.92,682.18 690.36,682.09 691.81,682.96 693.25,682.19 694.69,683.47 696.13,682.98 697.57,683.86 699.01,683.31 700.45,684.16 701.89,683.95 703.34,684.93 704.78,684.31 706.22,685.21 707.66,684.78 709.1,685.4 710.55,685.81 711.99,685.26 713.44,686.34 714.89,685.66 716.34,687.51 717.78,685.86 719.23,686.91 720.68,685.99 722.12,684.97 723.57,686.42 725.02,687.3 726.46,686.6 727.91,687.79 729.36,686.94 730.81,688 732.25,687.44 733.7,687.9 735.12,688.24 736.54,689.56 737.97,688.42 739.39,687.32 740.81,688.53 742.23,687.66 743.65,688.37 745.07,687.57 746.5,688.5 747.92,687.69 749.34,688.16 750.76,687.44 752.18,688.08 753.6,687.31 755.03,688.19 756.45,687.53 757.87,688.38 759.29,687.31 760.71,688.2 762.13,687.32 763.56,688.41 764.98,687.64 766.4,687.9 767.82,686.47 769.24,687.43 770.67,688.31 772.09,687.33 773.51,688.25 774.93,689.5 776.35,689.32 777.77,687.31 779.2,687.99 780.62,687.22 782.04,688.05 783.46,687.39 784.88,689.45 786.3,689.41 787.73,687.97 789.15,687.05 790.57,689.17 791.99,687.42 793.41,688.06 794.83,687.37 796.26,687.74 797.68,687.33 799.1,687.5 800.53,687.88 801.95,687.13 803.38,688.05 804.8,687.32 806.23,687.92 807.66,687.17 809.08,688 810.51,687.12 811.93,688.05 813.36,687.2 814.79,687.98 816.21,687.4 817.64,688.21 819.07,687.67 820.49,688.14 821.92,686.83 823.34,688.26 824.77,687.78 826.2,688.58 827.62,687.54 829.05,688.66 830.47,687.86 831.9,688.2 833.4,688.6 834.9,688.04 836.4,688.91 837.9,688.12 839.4,688.56 840.9,688.3 842.4,689.08 843.9,688.22 845.4,688.9 846.9,688.29 848.4,689.22 849.9,688.7" fill="none" stroke="#cc3540" stroke-width="1.8" stroke-linejoin="round" stroke-linecap="round" />
<line x1="266.4" y1="362" x2="266.4" y2="505" stroke="#d05a68" stroke-width="2.6" />
<polyline points="213.9,666 214.18,666.32 214.45,669.07 214.72,669.84 215,671.7 215.73,673.48 216.47,674.56 217.2,676.3 218.35,677.31 219.5,677.46 220.65,679.21 221.8,679.6 223.2,679.79 224.6,680.77 226,680.69 227.4,681.3 227.58,680.27 227.77,678.14 227.95,677.31 228.13,675.43 228.32,674.78 228.5,672.9 228.88,670.9 229.27,670.11 229.65,667.33 230.03,667.01 230.42,664.99 230.8,663.8 231.01,662.82 231.23,660.69 231.44,659.95 231.65,657.86 231.86,657.23 232.07,655.12 232.29,654.04 232.5,652.5 232.62,650.63 232.74,649.91 232.87,647.86 232.99,646.65 233.11,644.48 233.23,643.84 233.36,640.57 233.48,640.93 233.6,639 234.07,637.33 234.53,636.33 235,634.23 235.47,633.53 235.93,631.07 236.4,630 236.86,629.22 237.32,626.83 237.78,622.26 238.24,623.74 238.7,623.2 239.01,617.47 239.32,619.15 239.63,620.3 239.94,615.94 240.26,616.46 240.57,612.61 240.88,613.55 241.19,610.66 241.5,609.7 242.07,611.57 242.63,611.17 243.2,614.2 244.7,614.93 246.2,612.74 247.7,613 248.65,612.19 249.6,609.02 250.55,609.47 251.5,606.96 252.45,607.47 253.4,605.1 255.05,603.52 256.7,605.1 257.85,610.69 259,608.5 260.5,607.65 262,611.19 263.5,610.8 264.06,608.38 264.62,608.5 265.18,604.93 265.74,605.25 266.3,602.9 266.34,601.45 266.39,600 266.43,598.55 266.47,597.1 266.51,595.65 266.56,594.2 266.6,592.75 266.64,591.3 266.69,589.85 266.73,588.4 266.77,586.95 266.81,585.5 266.86,584.05 266.9,582.6 267.02,580.04 267.14,580.71 267.27,576.56 267.39,577.82 267.51,574.08 267.63,574.07 267.76,571 267.88,571.54 268,569 268.77,569.84 269.53,573.4 270.3,573.5 270.64,573.8 270.98,577.93 271.32,577.5 271.66,580.79 272,580.33 272.34,583 272.68,582.98 273.02,586.28 273.36,586.26 273.7,588.2 274.25,588.42 274.8,584.47 275.35,585.37 275.9,582.6 276.24,580.69 276.58,580.7 276.92,577.86 277.26,577.95 277.6,575.42 277.94,575.52 278.28,569.66 278.62,573.24 278.96,569.67 279.3,569 280.2,568.9 281.1,566.29 282,567.21 282.9,563.18 283.8,563.4 285.35,564.39 286.9,562.44 288.45,564.16 290,562.3 290.97,562.27 291.93,565.16 292.9,565.6 293.21,566.53 293.53,570.11 293.84,568.88 294.16,567.96 294.47,576.47 294.79,575.33 295.1,575.8 296.23,573.36 297.35,578.44 298.48,571.52 299.6,571.3 301.13,572.25 302.67,575.88 304.2,572.4 305.6,573.52 307,570.56 308.4,571.99 309.8,571.3 310.9,571.94 312,574.7 312.38,577.41 312.76,576.82 313.13,575.9 313.51,576.19 313.89,577.23 314.27,582.54 314.64,585.23 315.02,584.1 315.4,587.1 316.16,589.81 316.91,588.83 317.67,591.23 318.42,591.42 319.18,594.13 319.93,593.19 320.69,596.89 321.44,596.72 322.2,598.4 323.56,600.75 324.92,598.76 326.28,601.71 327.64,606.88 329,602.9 330.32,604.9 331.63,602.87 332.95,606.09 334.27,604.7 335.58,607.02 336.9,607.4 337.75,608.78 338.6,605.51 339.45,602.58 340.3,601.8 341.7,602.35 343.1,599.37 344.5,600.69 345.9,599.5 346.36,596.48 346.82,596.87 347.28,593.37 347.74,593.56 348.2,591.6 348.2,590.15 348.21,588.71 348.21,587.26 348.22,585.82 348.22,584.37 348.22,582.92 348.23,581.48 348.23,580.03 348.23,578.58 348.24,577.14 348.24,575.69 348.25,574.25 348.25,572.8 348.25,571.35 348.26,569.91 348.26,568.46 348.27,567.02 348.27,565.57 348.27,564.12 348.28,562.68 348.28,561.23 348.28,559.78 348.29,558.34 348.29,556.89 348.3,555.45 348.3,554 348.43,551.27 348.55,551.76 348.68,548.39 348.81,549.29 348.93,545.48 349.06,546.39 349.18,543.33 349.31,538.83 349.44,540.38 349.56,540.86 349.69,537.76 349.82,537.17 349.94,534.59 350.07,534.98 350.19,531.38 350.32,532.52 350.45,528.15 350.57,529.5 350.7,526.7 350.81,524.41 350.91,526.89 351.02,521.21 351.12,521.57 351.23,518.93 351.34,518.95 351.44,519.64 351.55,516.83 351.65,512.76 351.76,513.15 351.86,509.93 351.97,509.95 352.08,506.59 352.18,507.65 352.29,501.37 352.39,505.06 352.5,502.3 352.78,502.68 353.05,506.33 353.33,506.35 353.61,508.73 353.88,509.07 354.16,512.08 354.44,511.77 354.72,515.46 354.99,514.25 355.27,518.29 355.55,517.9 355.82,520.34 356.1,521.4 356.51,519.12 356.92,525.05 357.33,525.09 357.74,528.22 358.16,527.12 358.57,525.03 358.98,530.12 359.39,532.95 359.8,533.34 360.21,536.27 360.62,535.67 361.03,539.03 361.44,538.56 361.86,541.64 362.27,541.63 362.68,544.99 363.09,543.43 363.5,546.3 364.05,543.92 364.6,548.15 365.15,551.34 365.7,551.6 366.25,554.01 366.8,554.06 367.35,558.02 367.9,558 369.12,555.49 370.33,560.81 371.55,559.76 372.77,562.05 373.98,561.25 375.2,562.4 376.68,564.56 378.15,563.46 379.62,566.12 381.1,566.1 382.57,565.41 384.04,566.35 385.51,564.69 386.99,566.13 388.46,563.98 389.93,564.75 391.4,563.9 392.56,562.08 393.72,563.13 394.88,559 396.04,560.17 397.2,558 398.26,555.45 399.31,557.08 400.37,553.72 401.43,555.18 402.49,556.85 403.54,552.72 404.6,550.7 405.23,547.69 405.86,550.38 406.49,546.17 407.11,548.08 407.74,543.41 408.37,545.23 409,541.9 409.24,538.64 409.48,540.94 409.73,535.44 409.97,543.96 410.21,533.39 410.45,535 410.69,529.71 410.93,532.8 411.17,536.8 411.42,529.98 411.66,524.22 411.9,524.3 412.04,533.32 412.17,525.63 412.31,530 412.45,527.38 412.58,533.32 412.72,531.77 412.85,536.41 412.99,544.32 413.13,538.77 413.26,544.52 413.4,540.4 414.56,542.83 415.72,540.98 416.88,545.08 418.04,541.27 419.2,544.8 420.04,544.93 420.89,541.27 421.73,543.5 422.57,536.98 423.41,539.87 424.26,534.85 425.1,536 425.54,540.03 425.98,537.42 426.42,535.18 426.86,539.97 427.3,545.64 427.74,541.97 428.18,548.62 428.62,546.82 429.06,550.44 429.5,550.7 429.62,547.44 429.73,549 429.85,544.97 429.96,547 430.08,540.91 430.19,548.74 430.31,539.74 430.43,541.58 430.54,536 430.66,537.8 430.77,532.55 430.89,535.84 431.01,530.95 431.12,531.39 431.24,525.98 431.35,530.08 431.47,523.78 431.58,526.31 431.7,522.8 431.86,521.9 432.01,533.24 432.17,525.06 432.33,531.48 432.49,527.97 432.64,532.63 432.8,530.61 432.96,535.99 433.11,534.25 433.27,538.52 433.43,537.96 433.59,541.22 433.74,540.43 433.9,543.4 435.38,546.55 436.85,542.77 438.32,545.53 439.8,544.8 440.28,541.84 440.77,543.34 441.25,539.27 441.73,540.67 442.22,535.42 442.7,539.27 443.18,533.02 443.67,535.05 444.15,531.03 444.63,533.53 445.12,528.78 445.6,528.7 445.79,532.86 445.98,530.35 446.16,534.33 446.35,533.84 446.54,537.95 446.73,534.77 446.91,540.17 447.1,532.51 447.29,543.48 447.48,542.5 447.66,546.94 447.85,544.27 448.04,550.17 448.23,546.52 448.41,552.14 448.6,552.2 449.86,550.38 451.11,554.51 452.37,552.25 453.63,556.85 454.89,554.4 456.14,556.76 457.4,556.6 458.13,553.52 458.86,556.1 459.59,551.1 460.32,552.57 461.05,547.59 461.78,549.66 462.51,545.03 463.24,548.69 463.97,542.42 464.7,543.4 465,546.95 465.3,545.39 465.6,550 465.9,547.98 466.2,558.03 466.5,550.83 466.8,555.53 467.1,554.26 467.4,551.23 467.7,558 467.85,555.45 467.99,557.52 468.14,551.98 468.29,554.3 468.43,550.2 468.58,551.19 468.73,546.78 468.87,549.47 469.02,544.09 469.17,546.31 469.31,539.6 469.46,543.24 469.61,538.56 469.75,539.41 469.9,533.97 470.05,536.17 470.19,532.4 470.34,534.06 470.49,528.47 470.63,538.47 470.78,525.4 470.93,534.03 471.07,522.61 471.22,526.02 471.37,520.56 471.51,522.18 471.66,518.94 471.81,519.01 471.95,514.51 472.1,515.5 472.15,519.28 472.21,515.99 472.26,521.04 472.32,520.45 472.37,524.57 472.42,529.62 472.48,532.5 472.53,524.89 472.58,529.64 472.64,527.32 472.69,532.61 472.75,540.45 472.8,536.41 472.85,532.64 472.91,537.5 472.96,536.73 473.02,542.32 473.07,539.08 473.12,543.83 473.18,541.62 473.23,546.21 473.28,544.09 473.34,550.34 473.39,548.38 473.45,552.41 473.5,552.2 474.68,550.13 475.86,551.67 477.04,541.93 478.22,539.11 479.4,546.3 480.13,543.09 480.86,546.02 481.59,541.68 482.32,542.45 483.05,538.84 483.78,541.14 484.51,535.14 485.24,537.92 485.97,532.07 486.7,533.1 486.9,536.82 487.1,535.01 487.3,540.07 487.5,536.72 487.7,543.05 487.9,540.99 488.1,544.86 488.3,542.4 488.5,546.95 488.7,545.46 488.9,551.53 489.1,549.52 489.3,553.25 489.5,558.64 489.7,555.1 491.17,556.86 492.63,551.02 494.1,552.2 494.18,552.86 494.25,548.16 494.33,548.66 494.4,545.7 494.48,547.4 494.55,541.31 494.62,544.14 494.7,538.55 494.78,542.24 494.85,531.02 494.93,538.5 495,533.35 495.07,534.73 495.15,539.21 495.23,533 495.3,528.64 495.38,530.81 495.45,524.66 495.53,527.63 495.6,522.06 495.68,530.29 495.75,512.93 495.82,520.72 495.9,517.13 495.98,518.01 496.05,512.81 496.12,514.89 496.2,505.18 496.27,512.54 496.35,507.17 496.43,510.53 496.5,504.86 496.57,506.61 496.65,496.61 496.73,494.65 496.8,498.97 496.88,502.92 496.95,496.54 497.02,498.67 497.1,494.58 497.18,500.02 497.25,491.03 497.32,493.77 497.4,488 497.47,491.36 497.55,481.3 497.62,487.55 497.7,484.7 497.76,485.48 497.82,488.73 497.88,488.17 497.94,491.13 497.99,490.25 498.05,494.05 498.11,493.03 498.17,496.89 498.23,496.37 498.29,501.71 498.35,498.03 498.41,503.93 498.47,500.94 498.53,506.93 498.58,505.22 498.64,509.56 498.7,507.97 498.76,511.68 498.82,510.43 498.88,514.11 498.94,512.62 499,518.23 499.06,516.59 499.12,511.29 499.17,519.62 499.23,516.73 499.29,515.46 499.35,526.47 499.41,523.42 499.47,530.2 499.53,527.45 499.59,531.43 499.65,529.22 499.71,534.93 499.76,533.59 499.82,538.51 499.88,536.44 499.94,540.36 500,540.4 501.46,538.47 502.92,536.14 504.38,540.25 505.84,543.84 507.3,543.4 508.3,541.44 509.3,542.7 510.3,538.18 511.3,539.79 512.3,529.21 513.3,538.65 514.3,534.23 515.3,534.6 515.49,537.46 515.69,535.25 515.88,541.45 516.08,537.81 516.27,542.25 516.47,540.31 516.66,546.88 516.86,543.08 517.05,547.76 517.25,556.77 517.44,550.59 517.64,550.37 517.83,554.9 518.03,547.24 518.22,558.12 518.42,556.06 518.61,559.46 518.81,558.43 519,561 519.37,560.3 519.73,556.34 520.1,558.61 520.47,552.41 520.83,554.44 521.2,551.43 521.57,552.52 521.93,548.4 522.3,549.49 522.67,543.93 523.03,547.31 523.4,543.4 523.94,543.87 524.47,548.46 525.01,554.19 525.55,549.37 526.08,548.24 526.62,559.02 527.15,544.68 527.69,554.97 528.23,553.84 528.76,558.03 529.3,558 530.52,564.8 531.73,558.74 532.95,564.35 534.17,546.73 535.38,551.51 536.6,553.6 537.13,556.39 537.66,555.46 538.19,550.39 538.71,565.26 539.24,562.74 539.77,560.69 540.3,563.9 540.33,564.53 540.36,558.58 540.39,562.56 540.42,557.13 540.46,558.23 540.49,554.05 540.52,554.75 540.55,551.65 540.58,551.88 540.61,548.62 540.64,550.33 540.67,546.08 540.71,546.53 540.74,543.24 540.77,544.62 540.8,538.77 540.83,533.43 540.86,546.67 540.89,539.1 540.92,534.8 540.96,537.18 540.99,532.11 541.02,534.03 541.05,527.49 541.08,520.32 541.11,525.51 541.14,528.38 541.17,522.74 541.21,524.3 541.24,519.76 541.27,522.96 541.3,517.83 541.33,524.67 541.36,513.9 541.39,515.85 541.42,511.46 541.46,512.67 541.49,508.42 541.52,511.2 541.55,506.99 541.58,508.4 541.61,502.75 541.64,506.22 541.67,500.86 541.71,503.4 541.74,497.66 541.77,500.46 541.8,496.4 541.86,495.54 541.91,501.39 541.97,499.77 542.03,503.24 542.08,502.83 542.14,506.53 542.19,505.6 542.25,510.6 542.31,507.84 542.36,512.33 542.42,510.42 542.48,507.13 542.53,512.95 542.59,518.3 542.65,516.66 542.7,521.65 542.76,518.18 542.82,523.16 542.87,531.92 542.93,526.97 542.98,525.77 543.04,530.14 543.1,528.51 543.15,525.58 543.21,531.14 543.27,536.26 543.32,533.86 543.38,527.77 543.44,536.92 543.49,541.13 543.55,539.18 543.61,543.4 543.66,537.72 543.72,545.83 543.77,551.83 543.83,549.28 543.89,548.38 543.94,553.63 544,552.2 545.04,548.82 546.09,551.67 547.13,548.35 548.17,548.77 549.21,546.13 550.26,548.28 551.3,544.8 552.04,544.59 552.78,549.79 553.52,547.54 554.26,551.39 555,552.2" fill="none" stroke="#6e6ee6" stroke-width="1.7" stroke-linejoin="round" stroke-linecap="round" />
<text x="316.61" y="300.3" style="font-family:'Liberation Sans',Arial,sans-serif;font-weight:bold;font-size:15.4px" fill="#111" stroke="#111" stroke-width="0.2" textLength="34.91" lengthAdjust="spacingAndGlyphs" >Enter</text>
<line x1="312.8" y1="292.6" x2="280.79" y2="278.04" stroke="#2a2a2a" stroke-width="1.25" />
<polygon points="271.9,274 279.95,280.74 282.27,275.64" fill="none" stroke="#2a2a2a" stroke-width="1" stroke-linejoin="miter"/>
<polygon points="271.9,274 275.95,276.93 276.77,275.12" fill="#2a2a2a"/>
<text x="287.65" y="382.7" style="font-family:'Liberation Sans',Arial,sans-serif;font-weight:bold;font-size:15.4px" fill="#111" stroke="#111" stroke-width="0.2" textLength="33.57" lengthAdjust="spacingAndGlyphs" >Enter</text>
<line x1="305" y1="389.2" x2="292.3" y2="424.51" stroke="#2a2a2a" stroke-width="1.25" />
<polygon points="289,433.7 295.06,425.12 289.79,423.23" fill="none" stroke="#2a2a2a" stroke-width="1" stroke-linejoin="miter"/>
<polygon points="289,433.7 291.59,429.42 289.72,428.75" fill="#2a2a2a"/>
<text x="324.87" y="421.8" style="font-family:'Liberation Sans',Arial,sans-serif;font-weight:bold;font-size:15.4px" fill="#111" stroke="#111" stroke-width="0.2" textLength="120.38" lengthAdjust="spacingAndGlyphs" >Printer door open</text>
<line x1="352" y1="428.3" x2="314.69" y2="461.51" stroke="#2a2a2a" stroke-width="1.25" />
<polygon points="307.4,468 316.82,463.36 313.1,459.18" fill="none" stroke="#2a2a2a" stroke-width="1" stroke-linejoin="miter"/>
<polygon points="307.4,468 311.72,465.48 310.4,464" fill="#2a2a2a"/>
<text x="565.44" y="444.3" style="font-family:'Liberation Sans',Arial,sans-serif;font-weight:bold;font-size:15.4px" fill="#111" stroke="#111" stroke-width="0.2" textLength="89.63" lengthAdjust="spacingAndGlyphs" >3D printer off</text>
<line x1="608.2" y1="453.3" x2="595.08" y2="486.61" stroke="#2a2a2a" stroke-width="1.25" />
<polygon points="591.5,495.7 597.81,487.31 592.6,485.26" fill="none" stroke="#2a2a2a" stroke-width="1" stroke-linejoin="miter"/>
<polygon points="591.5,495.7 594.22,491.5 592.37,490.78" fill="#2a2a2a"/>
<text x="289.64" y="665" style="font-family:'Liberation Sans',Arial,sans-serif;font-weight:bold;font-size:15.4px" fill="#111" stroke="#111" stroke-width="0.2" textLength="89.36" lengthAdjust="spacingAndGlyphs" >3D printer on</text>
<line x1="285" y1="663.3" x2="242.5" y2="673.43" stroke="#2a2a2a" stroke-width="1.25" />
<polygon points="233,675.7 243.49,676.08 242.19,670.63" fill="none" stroke="#2a2a2a" stroke-width="1" stroke-linejoin="miter"/>
<polygon points="233,675.7 238,675.53 237.54,673.6" fill="#2a2a2a"/>
<line x1="1034.3" y1="733.08" x2="1038.3" y2="733.08" stroke="#3c3c3c" stroke-width="1.3" />
<line x1="1670.6" y1="733.08" x2="1666.6" y2="733.08" stroke="#3c3c3c" stroke-width="1.3" />
<line x1="1034.3" y1="715.16" x2="1038.3" y2="715.16" stroke="#3c3c3c" stroke-width="1.3" />
<line x1="1670.6" y1="715.16" x2="1666.6" y2="715.16" stroke="#3c3c3c" stroke-width="1.3" />
<line x1="1034.3" y1="697.24" x2="1038.3" y2="697.24" stroke="#3c3c3c" stroke-width="1.3" />
<line x1="1670.6" y1="697.24" x2="1666.6" y2="697.24" stroke="#3c3c3c" stroke-width="1.3" />
<line x1="1034.3" y1="679.32" x2="1038.3" y2="679.32" stroke="#3c3c3c" stroke-width="1.3" />
<line x1="1670.6" y1="679.32" x2="1666.6" y2="679.32" stroke="#3c3c3c" stroke-width="1.3" />
<line x1="1034.3" y1="661.4" x2="1040.3" y2="661.4" stroke="#3c3c3c" stroke-width="1.3" />
<line x1="1670.6" y1="661.4" x2="1664.6" y2="661.4" stroke="#3c3c3c" stroke-width="1.3" />
<line x1="1034.3" y1="643.48" x2="1038.3" y2="643.48" stroke="#3c3c3c" stroke-width="1.3" />
<line x1="1670.6" y1="643.48" x2="1666.6" y2="643.48" stroke="#3c3c3c" stroke-width="1.3" />
<line x1="1034.3" y1="625.56" x2="1038.3" y2="625.56" stroke="#3c3c3c" stroke-width="1.3" />
<line x1="1670.6" y1="625.56" x2="1666.6" y2="625.56" stroke="#3c3c3c" stroke-width="1.3" />
<line x1="1034.3" y1="607.64" x2="1038.3" y2="607.64" stroke="#3c3c3c" stroke-width="1.3" />
<line x1="1670.6" y1="607.64" x2="1666.6" y2="607.64" stroke="#3c3c3c" stroke-width="1.3" />
<line x1="1034.3" y1="589.72" x2="1038.3" y2="589.72" stroke="#3c3c3c" stroke-width="1.3" />
<line x1="1670.6" y1="589.72" x2="1666.6" y2="589.72" stroke="#3c3c3c" stroke-width="1.3" />
<line x1="1034.3" y1="571.8" x2="1040.3" y2="571.8" stroke="#3c3c3c" stroke-width="1.3" />
<line x1="1670.6" y1="571.8" x2="1664.6" y2="571.8" stroke="#3c3c3c" stroke-width="1.3" />
<line x1="1034.3" y1="553.88" x2="1038.3" y2="553.88" stroke="#3c3c3c" stroke-width="1.3" />
<line x1="1670.6" y1="553.88" x2="1666.6" y2="553.88" stroke="#3c3c3c" stroke-width="1.3" />
<line x1="1034.3" y1="535.96" x2="1038.3" y2="535.96" stroke="#3c3c3c" stroke-width="1.3" />
<line x1="1670.6" y1="535.96" x2="1666.6" y2="535.96" stroke="#3c3c3c" stroke-width="1.3" />
<line x1="1034.3" y1="518.04" x2="1038.3" y2="518.04" stroke="#3c3c3c" stroke-width="1.3" />
<line x1="1670.6" y1="518.04" x2="1666.6" y2="518.04" stroke="#3c3c3c" stroke-width="1.3" />
<line x1="1034.3" y1="500.12" x2="1038.3" y2="500.12" stroke="#3c3c3c" stroke-width="1.3" />
<line x1="1670.6" y1="500.12" x2="1666.6" y2="500.12" stroke="#3c3c3c" stroke-width="1.3" />
<line x1="1034.3" y1="482.2" x2="1040.3" y2="482.2" stroke="#3c3c3c" stroke-width="1.3" />
<line x1="1670.6" y1="482.2" x2="1664.6" y2="482.2" stroke="#3c3c3c" stroke-width="1.3" />
<line x1="1034.3" y1="464.28" x2="1038.3" y2="464.28" stroke="#3c3c3c" stroke-width="1.3" />
<line x1="1670.6" y1="464.28" x2="1666.6" y2="464.28" stroke="#3c3c3c" stroke-width="1.3" />
<line x1="1034.3" y1="446.36" x2="1038.3" y2="446.36" stroke="#3c3c3c" stroke-width="1.3" />
<line x1="1670.6" y1="446.36" x2="1666.6" y2="446.36" stroke="#3c3c3c" stroke-width="1.3" />
<line x1="1034.3" y1="428.44" x2="1038.3" y2="428.44" stroke="#3c3c3c" stroke-width="1.3" />
<line x1="1670.6" y1="428.44" x2="1666.6" y2="428.44" stroke="#3c3c3c" stroke-width="1.3" />
<line x1="1034.3" y1="410.52" x2="1038.3" y2="410.52" stroke="#3c3c3c" stroke-width="1.3" />
<line x1="1670.6" y1="410.52" x2="1666.6" y2="410.52" stroke="#3c3c3c" stroke-width="1.3" />
<line x1="1034.3" y1="392.6" x2="1040.3" y2="392.6" stroke="#3c3c3c" stroke-width="1.3" />
<line x1="1670.6" y1="392.6" x2="1664.6" y2="392.6" stroke="#3c3c3c" stroke-width="1.3" />
<line x1="1034.3" y1="374.68" x2="1038.3" y2="374.68" stroke="#3c3c3c" stroke-width="1.3" />
<line x1="1670.6" y1="374.68" x2="1666.6" y2="374.68" stroke="#3c3c3c" stroke-width="1.3" />
<line x1="1034.3" y1="356.76" x2="1038.3" y2="356.76" stroke="#3c3c3c" stroke-width="1.3" />
<line x1="1670.6" y1="356.76" x2="1666.6" y2="356.76" stroke="#3c3c3c" stroke-width="1.3" />
<line x1="1034.3" y1="338.84" x2="1038.3" y2="338.84" stroke="#3c3c3c" stroke-width="1.3" />
<line x1="1670.6" y1="338.84" x2="1666.6" y2="338.84" stroke="#3c3c3c" stroke-width="1.3" />
<line x1="1034.3" y1="320.92" x2="1038.3" y2="320.92" stroke="#3c3c3c" stroke-width="1.3" />
<line x1="1670.6" y1="320.92" x2="1666.6" y2="320.92" stroke="#3c3c3c" stroke-width="1.3" />
<line x1="1034.3" y1="303" x2="1040.3" y2="303" stroke="#3c3c3c" stroke-width="1.3" />
<line x1="1670.6" y1="303" x2="1664.6" y2="303" stroke="#3c3c3c" stroke-width="1.3" />
<line x1="1034.3" y1="285.08" x2="1038.3" y2="285.08" stroke="#3c3c3c" stroke-width="1.3" />
<line x1="1670.6" y1="285.08" x2="1666.6" y2="285.08" stroke="#3c3c3c" stroke-width="1.3" />
<line x1="1034.3" y1="267.16" x2="1038.3" y2="267.16" stroke="#3c3c3c" stroke-width="1.3" />
<line x1="1670.6" y1="267.16" x2="1666.6" y2="267.16" stroke="#3c3c3c" stroke-width="1.3" />
<line x1="1034.3" y1="249.24" x2="1038.3" y2="249.24" stroke="#3c3c3c" stroke-width="1.3" />
<line x1="1670.6" y1="249.24" x2="1666.6" y2="249.24" stroke="#3c3c3c" stroke-width="1.3" />
<line x1="1034.3" y1="231.32" x2="1038.3" y2="231.32" stroke="#3c3c3c" stroke-width="1.3" />
<line x1="1670.6" y1="231.32" x2="1666.6" y2="231.32" stroke="#3c3c3c" stroke-width="1.3" />
<line x1="1049.47" y1="213.3" x2="1049.47" y2="218.3" stroke="#3c3c3c" stroke-width="1.3" />
<line x1="1049.47" y1="742.2" x2="1049.47" y2="737.2" stroke="#3c3c3c" stroke-width="1.3" />
<line x1="1064.64" y1="213.3" x2="1064.64" y2="218.3" stroke="#3c3c3c" stroke-width="1.3" />
<line x1="1064.64" y1="742.2" x2="1064.64" y2="737.2" stroke="#3c3c3c" stroke-width="1.3" />
<line x1="1079.81" y1="213.3" x2="1079.81" y2="218.3" stroke="#3c3c3c" stroke-width="1.3" />
<line x1="1079.81" y1="742.2" x2="1079.81" y2="737.2" stroke="#3c3c3c" stroke-width="1.3" />
<line x1="1094.98" y1="213.3" x2="1094.98" y2="218.3" stroke="#3c3c3c" stroke-width="1.3" />
<line x1="1094.98" y1="742.2" x2="1094.98" y2="737.2" stroke="#3c3c3c" stroke-width="1.3" />
<line x1="1110.15" y1="213.3" x2="1110.15" y2="218.3" stroke="#3c3c3c" stroke-width="1.3" />
<line x1="1110.15" y1="742.2" x2="1110.15" y2="737.2" stroke="#3c3c3c" stroke-width="1.3" />
<line x1="1125.32" y1="213.3" x2="1125.32" y2="220.3" stroke="#3c3c3c" stroke-width="1.3" />
<line x1="1125.32" y1="742.2" x2="1125.32" y2="735.2" stroke="#3c3c3c" stroke-width="1.3" />
<line x1="1140.49" y1="213.3" x2="1140.49" y2="218.3" stroke="#3c3c3c" stroke-width="1.3" />
<line x1="1140.49" y1="742.2" x2="1140.49" y2="737.2" stroke="#3c3c3c" stroke-width="1.3" />
<line x1="1155.66" y1="213.3" x2="1155.66" y2="218.3" stroke="#3c3c3c" stroke-width="1.3" />
<line x1="1155.66" y1="742.2" x2="1155.66" y2="737.2" stroke="#3c3c3c" stroke-width="1.3" />
<line x1="1170.83" y1="213.3" x2="1170.83" y2="218.3" stroke="#3c3c3c" stroke-width="1.3" />
<line x1="1170.83" y1="742.2" x2="1170.83" y2="737.2" stroke="#3c3c3c" stroke-width="1.3" />
<line x1="1186" y1="213.3" x2="1186" y2="218.3" stroke="#3c3c3c" stroke-width="1.3" />
<line x1="1186" y1="742.2" x2="1186" y2="737.2" stroke="#3c3c3c" stroke-width="1.3" />
<line x1="1201.17" y1="213.3" x2="1201.17" y2="218.3" stroke="#3c3c3c" stroke-width="1.3" />
<line x1="1201.17" y1="742.2" x2="1201.17" y2="737.2" stroke="#3c3c3c" stroke-width="1.3" />
<line x1="1216.34" y1="213.3" x2="1216.34" y2="220.3" stroke="#3c3c3c" stroke-width="1.3" />
<line x1="1216.34" y1="742.2" x2="1216.34" y2="735.2" stroke="#3c3c3c" stroke-width="1.3" />
<line x1="1231.51" y1="213.3" x2="1231.51" y2="218.3" stroke="#3c3c3c" stroke-width="1.3" />
<line x1="1231.51" y1="742.2" x2="1231.51" y2="737.2" stroke="#3c3c3c" stroke-width="1.3" />
<line x1="1246.68" y1="213.3" x2="1246.68" y2="218.3" stroke="#3c3c3c" stroke-width="1.3" />
<line x1="1246.68" y1="742.2" x2="1246.68" y2="737.2" stroke="#3c3c3c" stroke-width="1.3" />
<line x1="1261.85" y1="213.3" x2="1261.85" y2="218.3" stroke="#3c3c3c" stroke-width="1.3" />
<line x1="1261.85" y1="742.2" x2="1261.85" y2="737.2" stroke="#3c3c3c" stroke-width="1.3" />
<line x1="1277.02" y1="213.3" x2="1277.02" y2="218.3" stroke="#3c3c3c" stroke-width="1.3" />
<line x1="1277.02" y1="742.2" x2="1277.02" y2="737.2" stroke="#3c3c3c" stroke-width="1.3" />
<line x1="1292.19" y1="213.3" x2="1292.19" y2="218.3" stroke="#3c3c3c" stroke-width="1.3" />
<line x1="1292.19" y1="742.2" x2="1292.19" y2="737.2" stroke="#3c3c3c" stroke-width="1.3" />
<line x1="1307.36" y1="213.3" x2="1307.36" y2="220.3" stroke="#3c3c3c" stroke-width="1.3" />
<line x1="1307.36" y1="742.2" x2="1307.36" y2="735.2" stroke="#3c3c3c" stroke-width="1.3" />
<line x1="1322.53" y1="213.3" x2="1322.53" y2="218.3" stroke="#3c3c3c" stroke-width="1.3" />
<line x1="1322.53" y1="742.2" x2="1322.53" y2="737.2" stroke="#3c3c3c" stroke-width="1.3" />
<line x1="1337.7" y1="213.3" x2="1337.7" y2="218.3" stroke="#3c3c3c" stroke-width="1.3" />
<line x1="1337.7" y1="742.2" x2="1337.7" y2="737.2" stroke="#3c3c3c" stroke-width="1.3" />
<line x1="1352.87" y1="213.3" x2="1352.87" y2="218.3" stroke="#3c3c3c" stroke-width="1.3" />
<line x1="1352.87" y1="742.2" x2="1352.87" y2="737.2" stroke="#3c3c3c" stroke-width="1.3" />
<line x1="1368.04" y1="213.3" x2="1368.04" y2="218.3" stroke="#3c3c3c" stroke-width="1.3" />
<line x1="1368.04" y1="742.2" x2="1368.04" y2="737.2" stroke="#3c3c3c" stroke-width="1.3" />
<line x1="1383.21" y1="213.3" x2="1383.21" y2="218.3" stroke="#3c3c3c" stroke-width="1.3" />
<line x1="1383.21" y1="742.2" x2="1383.21" y2="737.2" stroke="#3c3c3c" stroke-width="1.3" />
<line x1="1398.38" y1="213.3" x2="1398.38" y2="220.3" stroke="#3c3c3c" stroke-width="1.3" />
<line x1="1398.38" y1="742.2" x2="1398.38" y2="735.2" stroke="#3c3c3c" stroke-width="1.3" />
<line x1="1413.55" y1="213.3" x2="1413.55" y2="218.3" stroke="#3c3c3c" stroke-width="1.3" />
<line x1="1413.55" y1="742.2" x2="1413.55" y2="737.2" stroke="#3c3c3c" stroke-width="1.3" />
<line x1="1428.72" y1="213.3" x2="1428.72" y2="218.3" stroke="#3c3c3c" stroke-width="1.3" />
<line x1="1428.72" y1="742.2" x2="1428.72" y2="737.2" stroke="#3c3c3c" stroke-width="1.3" />
<line x1="1443.89" y1="213.3" x2="1443.89" y2="218.3" stroke="#3c3c3c" stroke-width="1.3" />
<line x1="1443.89" y1="742.2" x2="1443.89" y2="737.2" stroke="#3c3c3c" stroke-width="1.3" />
<line x1="1459.06" y1="213.3" x2="1459.06" y2="218.3" stroke="#3c3c3c" stroke-width="1.3" />
<line x1="1459.06" y1="742.2" x2="1459.06" y2="737.2" stroke="#3c3c3c" stroke-width="1.3" />
<line x1="1474.23" y1="213.3" x2="1474.23" y2="218.3" stroke="#3c3c3c" stroke-width="1.3" />
<line x1="1474.23" y1="742.2" x2="1474.23" y2="737.2" stroke="#3c3c3c" stroke-width="1.3" />
<line x1="1489.4" y1="213.3" x2="1489.4" y2="220.3" stroke="#3c3c3c" stroke-width="1.3" />
<line x1="1489.4" y1="742.2" x2="1489.4" y2="735.2" stroke="#3c3c3c" stroke-width="1.3" />
<line x1="1504.57" y1="213.3" x2="1504.57" y2="218.3" stroke="#3c3c3c" stroke-width="1.3" />
<line x1="1504.57" y1="742.2" x2="1504.57" y2="737.2" stroke="#3c3c3c" stroke-width="1.3" />
<line x1="1519.74" y1="213.3" x2="1519.74" y2="218.3" stroke="#3c3c3c" stroke-width="1.3" />
<line x1="1519.74" y1="742.2" x2="1519.74" y2="737.2" stroke="#3c3c3c" stroke-width="1.3" />
<line x1="1534.91" y1="213.3" x2="1534.91" y2="218.3" stroke="#3c3c3c" stroke-width="1.3" />
<line x1="1534.91" y1="742.2" x2="1534.91" y2="737.2" stroke="#3c3c3c" stroke-width="1.3" />
<line x1="1550.08" y1="213.3" x2="1550.08" y2="218.3" stroke="#3c3c3c" stroke-width="1.3" />
<line x1="1550.08" y1="742.2" x2="1550.08" y2="737.2" stroke="#3c3c3c" stroke-width="1.3" />
<line x1="1565.25" y1="213.3" x2="1565.25" y2="218.3" stroke="#3c3c3c" stroke-width="1.3" />
<line x1="1565.25" y1="742.2" x2="1565.25" y2="737.2" stroke="#3c3c3c" stroke-width="1.3" />
<line x1="1580.42" y1="213.3" x2="1580.42" y2="220.3" stroke="#3c3c3c" stroke-width="1.3" />
<line x1="1580.42" y1="742.2" x2="1580.42" y2="735.2" stroke="#3c3c3c" stroke-width="1.3" />
<line x1="1595.59" y1="213.3" x2="1595.59" y2="218.3" stroke="#3c3c3c" stroke-width="1.3" />
<line x1="1595.59" y1="742.2" x2="1595.59" y2="737.2" stroke="#3c3c3c" stroke-width="1.3" />
<line x1="1610.76" y1="213.3" x2="1610.76" y2="218.3" stroke="#3c3c3c" stroke-width="1.3" />
<line x1="1610.76" y1="742.2" x2="1610.76" y2="737.2" stroke="#3c3c3c" stroke-width="1.3" />
<line x1="1625.93" y1="213.3" x2="1625.93" y2="218.3" stroke="#3c3c3c" stroke-width="1.3" />
<line x1="1625.93" y1="742.2" x2="1625.93" y2="737.2" stroke="#3c3c3c" stroke-width="1.3" />
<line x1="1641.1" y1="213.3" x2="1641.1" y2="218.3" stroke="#3c3c3c" stroke-width="1.3" />
<line x1="1641.1" y1="742.2" x2="1641.1" y2="737.2" stroke="#3c3c3c" stroke-width="1.3" />
<line x1="1656.27" y1="213.3" x2="1656.27" y2="218.3" stroke="#3c3c3c" stroke-width="1.3" />
<line x1="1656.27" y1="742.2" x2="1656.27" y2="737.2" stroke="#3c3c3c" stroke-width="1.3" />
<rect x="1034.3" y="213.3" width="636.3" height="528.9" fill="none" stroke="#3c3c3c" stroke-width="1.6"/>
<text x="985.69" y="219.8" style="font-family:'Liberation Sans',Arial,sans-serif;font-size:20.6px" fill="#111" stroke="#111" stroke-width="0.45" textLength="39.35" lengthAdjust="spacingAndGlyphs" >1e+5</text>
<text x="986.23" y="309.4" style="font-family:'Liberation Sans',Arial,sans-serif;font-size:20.6px" fill="#111" stroke="#111" stroke-width="0.45" textLength="38.63" lengthAdjust="spacingAndGlyphs" >8e+4</text>
<text x="986.14" y="399" style="font-family:'Liberation Sans',Arial,sans-serif;font-size:20.6px" fill="#111" stroke="#111" stroke-width="0.45" textLength="38.72" lengthAdjust="spacingAndGlyphs" >6e+4</text>
<text x="986.66" y="488.6" style="font-family:'Liberation Sans',Arial,sans-serif;font-size:20.6px" fill="#111" stroke="#111" stroke-width="0.45" textLength="38.19" lengthAdjust="spacingAndGlyphs" >4e+4</text>
<text x="986.14" y="578.2" style="font-family:'Liberation Sans',Arial,sans-serif;font-size:20.6px" fill="#111" stroke="#111" stroke-width="0.45" textLength="38.72" lengthAdjust="spacingAndGlyphs" >2e+4</text>
<text x="985.99" y="667.6" style="font-family:'Liberation Sans',Arial,sans-serif;font-size:20.6px" fill="#111" stroke="#111" stroke-width="0.45" textLength="9.85" lengthAdjust="spacingAndGlyphs" >0</text>
<text x="1018.05" y="771.7" style="font-family:'Liberation Sans',Arial,sans-serif;font-size:20.8px" fill="#111" stroke="#111" stroke-width="0.45" textLength="43.45" lengthAdjust="spacingAndGlyphs" >16:00</text>
<text x="1109.51" y="771.7" style="font-family:'Liberation Sans',Arial,sans-serif;font-size:20.8px" fill="#111" stroke="#111" stroke-width="0.45" textLength="43" lengthAdjust="spacingAndGlyphs" >22:00</text>
<text x="1200.71" y="771.7" style="font-family:'Liberation Sans',Arial,sans-serif;font-size:20.8px" fill="#111" stroke="#111" stroke-width="0.45" textLength="42.83" lengthAdjust="spacingAndGlyphs" >04:00</text>
<text x="1291.11" y="771.7" style="font-family:'Liberation Sans',Arial,sans-serif;font-size:20.8px" fill="#111" stroke="#111" stroke-width="0.45" textLength="43.45" lengthAdjust="spacingAndGlyphs" >10:00</text>
<text x="1382.13" y="771.7" style="font-family:'Liberation Sans',Arial,sans-serif;font-size:20.8px" fill="#111" stroke="#111" stroke-width="0.45" textLength="43.45" lengthAdjust="spacingAndGlyphs" >16:00</text>
<text x="1473.59" y="771.7" style="font-family:'Liberation Sans',Arial,sans-serif;font-size:20.8px" fill="#111" stroke="#111" stroke-width="0.45" textLength="43" lengthAdjust="spacingAndGlyphs" >22:00</text>
<text x="1564.79" y="771.7" style="font-family:'Liberation Sans',Arial,sans-serif;font-size:20.8px" fill="#111" stroke="#111" stroke-width="0.45" textLength="42.83" lengthAdjust="spacingAndGlyphs" >04:00</text>
<text x="1655.19" y="771.7" style="font-family:'Liberation Sans',Arial,sans-serif;font-size:20.8px" fill="#111" stroke="#111" stroke-width="0.45" textLength="43.45" lengthAdjust="spacingAndGlyphs" >10:00</text>
<text x="1314.39" y="819" style="font-family:'Liberation Sans',Arial,sans-serif;font-size:24.6px" fill="#111" stroke="#111" stroke-width="0.45" textLength="75.03" lengthAdjust="spacingAndGlyphs" >Time, hr</text>
<text transform="translate(964.4,616.7) rotate(-90)" x="-1.94" y="0" style="font-family:'Liberation Sans',Arial,sans-serif;font-size:20.5px" fill="#111" stroke="#111" stroke-width="0.4" textLength="280.42" lengthAdjust="spacingAndGlyphs">Particle concentration, #/L</text>
<line x1="930" y1="828.3" x2="1705" y2="828.3" stroke="#e8e8e8" stroke-width="1.2" />
<line x1="1469.2" y1="259.2" x2="1566.8" y2="259.2" stroke="#000" stroke-width="2.4" />
<line x1="1469.2" y1="284.1" x2="1566.8" y2="284.1" stroke="#8a8a8a" stroke-width="1.6" stroke-dasharray="1.5,5"/>
<line x1="1469.2" y1="307.1" x2="1566.8" y2="307.1" stroke="#58c830" stroke-width="2.4" stroke-dasharray="12,6.5"/>
<line x1="1469.2" y1="330.5" x2="1566.8" y2="330.5" stroke="#e6e650" stroke-width="3" stroke-dasharray="16,18"/>
<line x1="1469.2" y1="354" x2="1566.8" y2="354" stroke="#000080" stroke-width="2.4" stroke-dasharray="24,10"/>
<line x1="1469.2" y1="377.2" x2="1566.8" y2="377.2" stroke="#a050c0" stroke-width="2.6" stroke-dasharray="16,5,2,5"/>
<text x="1590" y="266.6" style="font-family:'Liberation Sans',Arial,sans-serif;font-size:20.2px" fill="#111" stroke="#111" stroke-width="0.45" textLength="43.83" lengthAdjust="spacingAndGlyphs" >PM 1</text>
<text x="1590.72" y="290" style="font-family:'Liberation Sans',Arial,sans-serif;font-size:20.2px" fill="#111" stroke="#111" stroke-width="0.45" textLength="52.18" lengthAdjust="spacingAndGlyphs" >OPC 1</text>
<text x="1589.99" y="313.4" style="font-family:'Liberation Sans',Arial,sans-serif;font-size:20.2px" fill="#111" stroke="#111" stroke-width="0.45" textLength="43.93" lengthAdjust="spacingAndGlyphs" >PM 2</text>
<text x="1590.72" y="337.4" style="font-family:'Liberation Sans',Arial,sans-serif;font-size:20.2px" fill="#111" stroke="#111" stroke-width="0.45" textLength="52.27" lengthAdjust="spacingAndGlyphs" >OPC 2</text>
<text x="1590" y="360.8" style="font-family:'Liberation Sans',Arial,sans-serif;font-size:20.2px" fill="#111" stroke="#111" stroke-width="0.45" textLength="43.73" lengthAdjust="spacingAndGlyphs" >PM 3</text>
<text x="1590.72" y="384.2" style="font-family:'Liberation Sans',Arial,sans-serif;font-size:20.2px" fill="#111" stroke="#111" stroke-width="0.45" textLength="52.09" lengthAdjust="spacingAndGlyphs" >OPC 3</text>
<polyline points="1049.5,580.5 1050.34,583.51 1051.18,584.21 1052.02,587.6 1052.86,588.98 1053.7,591.2 1055.16,593.32 1056.61,594.44 1058.07,596.09 1059.53,597.33 1060.99,598.4 1062.44,600.35 1063.9,602.51 1065.16,603.25 1066.43,605.91 1067.69,607 1068.95,609.7 1070.21,610.86 1071.47,612.03 1072.74,613.7 1074,616.02 1075.7,618.45 1077.4,619.93 1079.1,621.2 1080.8,621.12 1082.5,622.44 1084.2,624.7 1085.9,626.24 1087.87,626.9 1089.83,628.62 1091.8,629.56 1093.77,630.59 1095.73,631.78 1097.7,632.16 1099.81,632.27 1101.92,632.84 1104.04,632.72 1106.15,633.98 1108.26,633.37 1110.38,633.65 1112.49,634.03 1114.6,634.69 1116.72,634.6 1118.85,634.91 1120.97,636.25 1123.1,635.91 1125.22,635.91 1127.35,636.92 1129.47,638.28 1131.6,638.14 1133.71,638.9 1135.82,639.52 1137.94,639.47 1140.05,639.37 1142.16,639.36 1144.28,639.21 1146.39,640.69 1148.5,640.69 1150.61,641.06 1152.72,640.81 1154.84,640.19 1156.95,641.78 1159.06,641.32 1161.18,641.32 1163.29,642.24 1165.4,641.66 1167.53,642.54 1169.65,641.51 1171.78,642.1 1173.9,641.76 1176.03,642.26 1178.15,642.16 1180.28,641.35 1182.4,641.73 1184.51,641.06 1186.62,642.71 1188.74,641.57 1190.85,643.47 1192.96,642.11 1195.08,643.78 1197.19,644.18 1199.3,643.51 1201.41,643.95 1203.53,643.29 1205.64,644.85 1207.75,643.88 1209.86,645.45 1211.97,646.16 1214.09,646.1 1216.2,646.1 1218.31,645.91 1220.42,646.39 1222.54,645.77 1224.65,647 1226.76,647.16 1228.88,647.32 1230.99,646.04 1233.1,647.1 1235.22,647.51 1237.35,646.62 1239.47,645.93 1241.6,645.86 1243.72,644.68 1245.85,645.27 1247.97,644.43 1250.1,643.81 1252.03,642.66 1253.96,641.37 1255.89,640.71 1257.81,640.59 1259.74,639.44 1261.67,637.79 1263.6,637.1 1264.73,636.21 1265.87,633.67 1267,632.18 1268.13,629.59 1269.27,629.61 1270.4,627.05 1270.91,625.9 1271.42,623.42 1271.93,620.72 1272.44,618.36 1272.95,616.24 1273.46,615.46 1273.97,613.32 1274.48,610.55 1274.99,608.13 1275.5,606.69 1278.05,606.48 1280.6,605.13 1281.7,603.37 1282.8,601.44 1283.9,598.35 1284.75,600.31 1285.6,603.03 1286.45,604.3 1287.3,606.85 1288.15,607.27 1289,610.19 1290.06,611.93 1291.12,614.24 1292.19,615.71 1293.25,617.98 1294.31,618.97 1295.38,620.07 1296.44,622.61 1297.5,623.86 1298.63,626.27 1299.77,627.64 1300.9,628.99 1303.01,629.53 1305.12,628.54 1307.24,628.64 1309.35,629.32 1311.46,629.77 1313.58,630.87 1315.69,630.02 1317.8,630.73 1320,632.25 1322.26,630.89 1324.52,630.45 1326.78,631.93 1329.04,629.95 1331.3,630.05 1331.7,627.61 1332.1,626.65 1332.5,624.71 1332.9,621.33 1333.3,619.88 1333.7,617.35 1334.1,615.48 1335.52,616.56 1336.93,619.39 1338.35,619.04 1339.77,621.88 1341.18,623.56 1342.6,624.56 1344.86,624.66 1347.12,623.82 1349.38,624.07 1351.64,623.44 1353.9,622.37 1355.83,623.33 1357.76,622.83 1359.69,625.18 1361.61,624.42 1363.54,625.05 1365.47,626.04 1367.4,627.11 1369.65,626.84 1371.9,626.2 1374.15,626.15 1376.4,626 1378.28,624.7 1380.17,623.65 1382.05,623.69 1383.93,622.69 1385.82,620.54 1387.7,620.52 1389.58,620.38 1391.47,618.01 1393.35,617.37 1395.23,617.35 1397.12,616.59 1399,614.95 1400.88,614.76 1402.77,613.5 1404.65,611.75 1406.53,611.39 1408.42,610.06 1410.3,608.38 1412.18,608.14 1414.07,607.48 1415.95,606.49 1417.83,604.61 1419.72,603.66 1421.6,602.81 1423.87,602.6 1426.13,602.07 1428.4,600.69 1428.58,599.09 1428.77,596.29 1428.95,593.63 1429.13,591.67 1429.32,591.14 1429.5,588.31 1431.75,589.97 1434,589.06 1436.25,590.61 1438.5,591.72 1440.61,592.13 1442.72,592.07 1444.84,591.35 1446.95,593.15 1449.06,592.88 1451.18,592.4 1453.29,592.91 1455.4,593.14 1457.53,592.92 1459.65,593.47 1461.78,593.99 1463.9,593.4 1466.03,592.91 1468.15,592.99 1470.28,594.01 1472.4,593.36 1474.66,593.19 1476.92,591.77 1479.18,592.24 1481.44,590.97 1483.7,590.12 1485.3,589.84 1486.9,588.35 1488.5,585.42 1490.1,584.9 1491.7,582.75 1493.3,583.36 1494.9,581.18 1496.6,579.42 1498.3,578.17 1500,577.55 1502.17,577.23 1504.33,577.6 1506.5,576.66 1508.67,576.67 1510.83,575.85 1513,575.14 1515.18,574.66 1517.37,573.83 1519.55,573.43 1521.73,571.72 1523.92,571.32 1526.1,571.44 1527.83,571.38 1529.57,568.69 1531.3,567.85 1533.03,567.24 1534.77,566.64 1536.5,565.1 1538.02,562.81 1539.53,562.7 1541.05,560.83 1542.57,558.24 1544.08,557.37 1545.6,556.14 1547.06,555.45 1548.51,553.46 1549.97,550.73 1551.42,550.11 1552.88,547.41 1554.33,546.51 1555.79,544.76 1557.24,544.51 1558.7,541.95 1560.14,540.56 1561.59,540.06 1563.03,537.67 1564.48,536.77 1565.92,533.87 1567.37,534.17 1568.81,532.22 1570.26,530.34 1571.7,529.17 1573.57,528.55 1575.44,527.4 1577.31,524.65 1579.19,523.07 1581.06,523.05 1582.93,522.23 1584.8,520.19 1586.66,518.33 1588.51,518.16 1590.37,516.05 1592.23,514.97 1594.09,514.79 1595.94,514.5 1597.8,512.61 1599.67,512.42 1601.54,511.25 1603.41,510.35 1605.29,508.46 1607.16,508.06 1609.03,506.55 1610.9,506.34 1613.07,505.16 1615.23,504.43 1617.4,504.39 1619.57,502.96 1621.73,502.56 1623.9,502.68 1626.07,502.23 1628.23,501.23 1630.4,500.2 1630.73,497.37 1631.05,495.04 1631.38,493.57 1631.7,491.02 1631.76,487.97 1631.82,487.24 1631.88,485.13 1631.93,483.17 1631.99,479.53 1632.05,478.6 1632.11,475.94 1632.17,473.16 1632.23,472.18 1632.28,468.83 1632.34,466.55 1632.4,465.04 1632.55,463.48 1632.7,461.39 1632.85,458.59 1633,455.85 1634.33,457.07 1635.65,459.77 1636.97,462.04 1638.3,463.85 1639.86,464.61 1641.42,467.18 1642.98,467.68 1644.54,469.19 1646.1,470.49 1648.05,471.48 1650,471.52 1651.95,474.27 1653.9,474.54 1654.9,473.35 1655.9,470.68 1655.99,469.24 1656.07,466.32 1656.16,463.79 1656.24,461.36 1656.33,458.82 1656.41,456.67 1656.5,454.99" fill="none" stroke="#111" stroke-width="1.5" stroke-linejoin="round" stroke-linecap="round" />
<polyline points="1037.5,661 1037.87,658.97 1038.23,656.59 1038.6,655.11 1038.97,653.55 1039.33,649.9 1039.7,649.07 1040.07,645.94 1040.43,643.98 1040.8,642 1041.14,639.58 1041.47,638.2 1041.81,635.78 1042.15,633.14 1042.48,632 1042.82,629.03 1043.15,627.34 1043.49,625.54 1043.83,624.35 1044.16,622.17 1044.5,619.6 1044.76,617.58 1045.03,615.15 1045.29,612.55 1045.55,610.84 1045.81,608.54 1046.07,606.42 1046.34,604.2 1046.6,602 1046.93,599.32 1047.26,597.4 1047.59,595.32 1047.92,592.54 1048.25,590.45 1048.58,589.57 1048.91,586.62 1049.24,585.21 1049.57,583.33 1049.9,580.5 1050.66,583.01 1051.42,584.87 1052.18,587.83 1052.94,589.48 1053.7,591.61 1055.16,592.3 1056.61,595.41 1058.07,596.41 1059.53,598.09 1060.99,600.11 1062.44,601.66 1063.9,602.92 1065.16,605.51 1066.43,606.53 1067.69,607.3 1068.95,609.98 1070.21,611.85 1071.47,612.06 1072.74,615.11 1074,616.43 1075.7,618.14 1077.4,619.7 1079.1,620.61 1080.8,621.92 1082.5,623.87 1084.2,624.63 1085.9,626.65 1087.87,628.24 1089.83,627.94 1091.8,629.72 1093.77,630.9 1095.73,631.16 1097.7,632.58 1099.81,632.17 1101.92,634.02 1104.04,634.48 1106.15,634.08 1108.26,634.78 1110.38,634.37 1112.49,634.36 1114.6,635.13 1116.72,635.6 1118.85,635.03 1120.97,636.52 1123.1,637.44 1125.22,636.94 1127.35,638.6 1129.47,637.39 1131.6,638.59 1133.71,638.42 1135.82,639.45 1137.94,639.68 1140.05,640.59 1142.16,639.23 1144.28,641.12 1146.39,639.97 1148.5,641.16 1150.61,641.9 1152.72,641.66 1154.84,640.55 1156.95,642.43 1159.06,641.35 1161.18,641.89 1163.29,642.9 1165.4,642.14 1167.53,641.91 1169.65,641.32 1171.78,641.6 1173.9,642.67 1176.03,641.49 1178.15,641.84 1180.28,641.67 1182.4,642.24 1184.51,642.34 1186.62,641.94 1188.74,643.86 1190.85,643.96 1192.96,642.59 1195.08,642.89 1197.19,643.93 1199.3,644.05 1201.41,645.32 1203.53,645.25 1205.64,644.33 1207.75,646.03 1209.86,644.77 1211.97,646.01 1214.09,646.8 1216.2,646.67 1218.31,646.64 1220.42,647.19 1222.54,647.47 1224.65,646.54 1226.76,646.57 1228.88,647.05 1230.99,646.74 1233.1,647.7 1235.22,646.62 1237.35,645.97 1239.47,646.14 1241.6,646.46 1243.72,645 1245.85,645.19 1247.97,644.07 1250.1,644.45 1252.03,642.89 1253.96,642.26 1255.89,642.47 1257.81,640.03 1259.74,638.92 1261.67,639.44 1263.6,637.77 1264.73,635.75 1265.87,634.24 1267,632.65 1268.13,631.05 1269.27,628.46 1270.4,627.74 1270.91,626.05 1271.42,624.47 1271.93,620.96 1272.44,620.38 1272.95,618.15 1273.46,615.78 1273.97,613.8 1274.48,611.35 1274.99,609.67 1275.5,607.39 1278.05,607.42 1280.6,605.84 1281.7,604.15 1282.8,601.42 1283.9,599.07 1284.75,601.82 1285.6,602.05 1286.45,604.88 1287.3,606.02 1288.15,609.21 1289,610.92 1290.06,612.96 1291.12,614.37 1292.19,615.35 1293.25,616.87 1294.31,620.05 1295.38,621.22 1296.44,622.9 1297.5,624.61 1298.63,626.7 1299.77,627.35 1300.9,629.75 1303.01,630.27 1305.12,630.2 1307.24,631.27 1309.35,631.05 1311.46,631.75 1313.58,631.78 1315.69,631.04 1317.8,631.54 1320,633.07 1322.26,633.05 1324.52,631.58 1326.78,631.53 1329.04,631.66 1331.3,630.9 1331.7,628.49 1332.1,626.7 1332.5,624.82 1332.9,623.54 1333.3,619.82 1333.7,619.21 1334.1,616.34 1335.52,617.24 1336.93,620.36 1338.35,620.31 1339.77,622.74 1341.18,624.16 1342.6,625.45 1344.86,624.02 1347.12,624.74 1349.38,623.81 1351.64,624.01 1353.9,623.29 1355.83,624.1 1357.76,625.26 1359.69,625.02 1361.61,626.17 1363.54,626.8 1365.47,628.3 1367.4,628.07 1369.65,628.52 1371.9,628.51 1374.15,627.25 1376.4,627 1378.28,626.75 1380.17,624.28 1382.05,624.14 1383.93,622.54 1385.82,622.3 1387.7,621.56 1389.58,620.23 1391.47,619.73 1393.35,619.21 1395.23,616.88 1397.12,617.13 1399,616.03 1400.88,614.21 1402.77,613.61 1404.65,613.52 1406.53,611.89 1408.42,610.46 1410.3,609.5 1412.18,609.35 1414.07,608.28 1415.95,605.91 1417.83,605.72 1419.72,604.64 1421.6,603.98 1423.87,602.36 1426.13,603.26 1428.4,601.89 1428.58,599.43 1428.77,596.89 1428.95,595.22 1429.13,594.2 1429.32,590.98 1429.5,589.51 1431.75,590.39 1434,591.24 1436.25,592.15 1438.5,592.96 1440.61,593.68 1442.72,593.72 1444.84,593.81 1446.95,593.26 1449.06,594.17 1451.18,593.71 1453.29,594.63 1455.4,594.45 1457.53,594.88 1459.65,595.44 1461.78,593.65 1463.9,595.27 1466.03,595.26 1468.15,594.26 1470.28,594.92 1472.4,594.75 1474.66,594.84 1476.92,593.95 1479.18,593.71 1481.44,591.9 1483.7,591.56 1485.3,590.99 1486.9,589.73 1488.5,587.27 1490.1,586.49 1491.7,585.1 1493.3,582.99 1494.9,582.67 1496.6,580.63 1498.3,580.85 1500,579.07 1502.17,579.44 1504.33,577.71 1506.5,578.09 1508.67,578.25 1510.83,576.27 1513,576.72 1515.18,575.7 1517.37,576.19 1519.55,575.12 1521.73,575.21 1523.92,573.98 1526.1,573.08 1527.83,572.55 1529.57,571.28 1531.3,570.62 1533.03,568.41 1534.77,567.17 1536.5,566.8 1538.02,566.12 1539.53,563.27 1541.05,563.06 1542.57,560.31 1544.08,558.89 1545.6,557.89 1547.06,555.44 1548.51,554.07 1549.97,554.17 1551.42,551.22 1552.88,551.03 1554.33,547.6 1555.79,546.67 1557.24,545.59 1558.7,543.77 1560.14,543.29 1561.59,540.37 1563.03,539.36 1564.48,538.06 1565.92,536.33 1567.37,534.41 1568.81,533.65 1570.26,532.77 1571.7,531.05 1573.57,529.74 1575.44,528.57 1577.31,526.63 1579.19,525.48 1581.06,524.74 1582.93,522.66 1584.8,522.15 1586.66,520.71 1588.51,520.79 1590.37,519.77 1592.23,518.66 1594.09,516.73 1595.94,516.59 1597.8,514.65 1599.67,513.89 1601.54,512.08 1603.41,511.99 1605.29,512.06 1607.16,509.89 1609.03,509.03 1610.9,508.46 1613.07,507.05 1615.23,507.02 1617.4,505.89 1619.57,507.01 1621.73,505.47 1623.9,504.87 1626.07,503.63 1628.23,502.91 1630.4,502.43 1630.73,500.3 1631.05,497.21 1631.38,496.1 1631.7,493.27 1631.76,490.74 1631.82,488.85 1631.88,487.68 1631.93,484.51 1631.99,482.18 1632.05,480.83 1632.11,478.99 1632.17,476.33 1632.23,473.74 1632.28,472.47 1632.34,468.84 1632.4,467.28 1632.55,465.9 1632.7,463.02 1632.85,459.74 1633,458.1 1634.33,459.48 1635.65,461.49 1636.97,463.71 1638.3,466.13 1639.86,467.89 1641.42,469.23 1642.98,470.32 1644.54,471.33 1646.1,472.83 1648.05,473.27 1650,474.02 1651.95,475.93 1653.9,476.93 1654.9,475.33 1655.9,473.08 1655.99,471.34 1656.07,468.07 1656.16,465.58 1656.24,463.69 1656.33,461.07 1656.41,459.02 1656.5,457.39" fill="none" stroke="#70d020" stroke-width="3" stroke-linejoin="round" stroke-linecap="round" stroke-dasharray="9,4"/>
<polyline points="1049.5,580.3 1050.34,582.6 1051.18,584.92 1052.02,586.26 1052.86,589.81 1053.7,591 1055.16,591.79 1056.61,593.79 1058.07,596.64 1059.53,597.85 1060.99,599.11 1062.44,600.39 1063.9,602.31 1065.16,604.42 1066.43,605.75 1067.69,606.74 1068.95,609.21 1070.21,611.73 1071.47,613.25 1072.74,613.58 1074,615.82 1075.7,616.7 1077.4,617.98 1079.1,620.37 1080.8,622.13 1082.5,624.03 1084.2,624.92 1085.9,626.03 1087.87,626.79 1089.83,628.99 1091.8,628.04 1093.77,630.17 1095.73,631.36 1097.7,631.95 1099.81,632.11 1101.92,633.24 1104.04,633.68 1106.15,633.24 1108.26,633.39 1110.38,634.59 1112.49,633.21 1114.6,634.48 1116.72,633.96 1118.85,634.45 1120.97,635.62 1123.1,636.26 1125.22,636.4 1127.35,636.8 1129.47,637.22 1131.6,637.92 1133.71,637.5 1135.82,639.39 1137.94,638.61 1140.05,639.28 1142.16,638.83 1144.28,639.13 1146.39,639.36 1148.5,640.46 1150.61,641.18 1152.72,639.95 1154.84,640.44 1156.95,641.07 1159.06,640.25 1161.18,641.17 1163.29,641.22 1165.4,641.42 1167.53,641.92 1169.65,641.89 1171.78,640.91 1173.9,640.73 1176.03,642.3 1178.15,640.47 1180.28,642.26 1182.4,641.48 1184.51,641.41 1186.62,642.46 1188.74,642.81 1190.85,642.54 1192.96,642.44 1195.08,642.75 1197.19,642.11 1199.3,643.24 1201.41,644.52 1203.53,644.87 1205.64,643.31 1207.75,645.51 1209.86,644.33 1211.97,644.25 1214.09,646.35 1216.2,645.82 1218.31,645.34 1220.42,645.58 1222.54,646.74 1224.65,646.82 1226.76,646.11 1228.88,645.71 1230.99,647.19 1233.1,646.8 1235.22,645.54 1237.35,646.53 1239.47,645.45 1241.6,645.52 1243.72,644.08 1245.85,644.18 1247.97,644.77 1250.1,643.49 1252.03,641.74 1253.96,641.6 1255.89,641.47 1257.81,639.82 1259.74,638.69 1261.67,638.71 1263.6,636.77 1264.73,635.56 1265.87,633.9 1267,632.38 1268.13,630.64 1269.27,627.96 1270.4,626.71 1270.91,623.75 1271.42,621.73 1271.93,620.64 1272.44,619.06 1272.95,615.91 1273.46,614.3 1273.97,611.91 1274.48,609.83 1274.99,607.9 1275.5,606.34 1278.05,605.46 1280.6,604.77 1281.7,601.99 1282.8,600.19 1283.9,597.99 1284.75,600.37 1285.6,602.26 1286.45,603.11 1287.3,605.7 1288.15,607.93 1289,609.83 1290.06,611.11 1291.12,612.97 1292.19,614.44 1293.25,616.98 1294.31,618.02 1295.38,619.15 1296.44,621.61 1297.5,623.48 1298.63,625.88 1299.77,626.04 1300.9,628.61 1303.01,627.99 1305.12,628.15 1307.24,628.64 1309.35,628.99 1311.46,629.94 1313.58,629.66 1315.69,630.47 1317.8,630.33 1320,631.84 1322.26,630.91 1324.52,630.16 1326.78,631.36 1329.04,630.2 1331.3,629.63 1331.7,627.44 1332.1,624.59 1332.5,623.56 1332.9,622.08 1333.3,618.47 1333.7,616.27 1334.1,615.05 1335.52,616.44 1336.93,618.39 1338.35,618.63 1339.77,620.46 1341.18,623.58 1342.6,624.12 1344.86,624.11 1347.12,623.81 1349.38,623.37 1351.64,621.5 1353.9,621.91 1355.83,623.18 1357.76,622.73 1359.69,623.37 1361.61,625.5 1363.54,624.81 1365.47,625.29 1367.4,626.62 1369.65,627 1371.9,625.87 1374.15,626.44 1376.4,625.5 1378.28,623.91 1380.17,623.54 1382.05,622.11 1383.93,621.1 1385.82,621.01 1387.7,620 1389.58,618.93 1391.47,617.61 1393.35,618.02 1395.23,616.59 1397.12,614.86 1399,614.41 1400.88,612.54 1402.77,612.82 1404.65,610.29 1406.53,609.45 1408.42,608.22 1410.3,607.81 1412.18,607.63 1414.07,605.12 1415.95,604.63 1417.83,604.27 1419.72,603.85 1421.6,602.23 1423.87,602.01 1426.13,600.92 1428.4,600.09 1428.58,598.9 1428.77,595.85 1428.95,594.81 1429.13,592.41 1429.32,590.45 1429.5,587.71 1431.75,588.62 1434,589.02 1436.25,589.66 1438.5,591.1 1440.61,591.73 1442.72,590.7 1444.84,591.33 1446.95,591.91 1449.06,592.94 1451.18,592.37 1453.29,592.63 1455.4,592.48 1457.53,591.76 1459.65,591.57 1461.78,592.41 1463.9,592.77 1466.03,591.68 1468.15,592.21 1470.28,591.88 1472.4,592.67 1474.66,592.27 1476.92,591.25 1479.18,590.46 1481.44,590 1483.7,589.4 1485.3,588.53 1486.9,587.58 1488.5,585.64 1490.1,584.36 1491.7,582.58 1493.3,582.37 1494.9,580.43 1496.6,578.28 1498.3,577.52 1500,576.79 1502.17,576.03 1504.33,576.34 1506.5,576.03 1508.67,575.89 1510.83,575.17 1513,574.35 1515.18,573.64 1517.37,572.28 1519.55,572.2 1521.73,572.17 1523.92,571.89 1526.1,570.61 1527.83,570.52 1529.57,568.36 1531.3,567.9 1533.03,565.88 1534.77,565.04 1536.5,564.25 1538.02,561.78 1539.53,561.35 1541.05,559.44 1542.57,558.08 1544.08,556.64 1545.6,555.27 1547.06,553.9 1548.51,552.89 1549.97,551.26 1551.42,548.56 1552.88,547.96 1554.33,545.47 1555.79,544.15 1557.24,543.06 1558.7,541.04 1560.14,540.09 1561.59,537.57 1563.03,535.97 1564.48,534.74 1565.92,534.71 1567.37,531.58 1568.81,530.33 1570.26,529.32 1571.7,528.22 1573.57,526.77 1575.44,526.56 1577.31,523.93 1579.19,522.38 1581.06,521.09 1582.93,520.78 1584.8,519.21 1586.66,518.54 1588.51,516.74 1590.37,515.06 1592.23,515.21 1594.09,513.26 1595.94,511.75 1597.8,511.59 1599.67,510.04 1601.54,508.9 1603.41,508.74 1605.29,507.29 1607.16,507.66 1609.03,506.21 1610.9,505.29 1613.07,503.89 1615.23,503.6 1617.4,503.46 1619.57,503.81 1621.73,503.18 1623.9,501.58 1626.07,501.72 1628.23,499.7 1630.4,499.08 1630.73,496.16 1631.05,495.06 1631.38,492.67 1631.7,489.9 1631.76,486.97 1631.82,485.21 1631.88,482.66 1631.93,480.31 1631.99,479.51 1632.05,476.32 1632.11,474.9 1632.17,472.72 1632.23,469.87 1632.28,467.44 1632.34,466.5 1632.4,463.91 1632.55,462.31 1632.7,458.8 1632.85,456.96 1633,454.72 1634.33,457.26 1635.65,459.48 1636.97,459.95 1638.3,462.71 1639.86,464.17 1641.42,465.39 1642.98,467.38 1644.54,467.18 1646.1,469.33 1648.05,470.26 1650,470.82 1651.95,472.23 1653.9,473.35 1654.9,472.41 1655.9,469.49 1655.99,468.07 1656.07,464.03 1656.16,462.22 1656.24,460.18 1656.33,458.08 1656.41,456.34 1656.5,453.8" fill="none" stroke="#f0f040" stroke-width="3.2" stroke-linejoin="round" stroke-linecap="round" stroke-dasharray="10,6"/>
<polyline points="1049.5,579.8 1050.34,581.79 1051.18,583.75 1052.02,585.7 1052.86,588.63 1053.7,590.5 1055.16,592.16 1056.61,593.83 1058.07,594.95 1059.53,596.9 1060.99,599 1062.44,600.12 1063.9,601.8 1065.16,602.52 1066.43,605.51 1067.69,606.79 1068.95,608.75 1070.21,609.59 1071.47,612.13 1072.74,613.56 1074,615.31 1075.7,617.68 1077.4,617.54 1079.1,620.59 1080.8,622.09 1082.5,623.11 1084.2,624.55 1085.9,625.51 1087.87,627.37 1089.83,628.23 1091.8,628.08 1093.77,630.19 1095.73,630.82 1097.7,631.41 1099.81,630.86 1101.92,632.85 1104.04,631.72 1106.15,631.68 1108.26,632.8 1110.38,633.21 1112.49,634.45 1114.6,633.92 1116.72,634.05 1118.85,634.51 1120.97,635.63 1123.1,634.83 1125.22,636.11 1127.35,635.71 1129.47,636.49 1131.6,637.34 1133.71,637.73 1135.82,637.4 1137.94,638.05 1140.05,639.29 1142.16,639.11 1144.28,639.34 1146.39,639.08 1148.5,639.85 1150.61,640.49 1152.72,640.31 1154.84,640.63 1156.95,640.99 1159.06,640.15 1161.18,641.5 1163.29,640.93 1165.4,640.76 1167.53,640.04 1169.65,641.12 1171.78,640 1173.9,640.1 1176.03,639.82 1178.15,641.57 1180.28,640.22 1182.4,640.78 1184.51,640.01 1186.62,642.21 1188.74,640.82 1190.85,641.71 1192.96,641.58 1195.08,641.59 1197.19,641.63 1199.3,642.5 1201.41,643.23 1203.53,642.46 1205.64,644.28 1207.75,644.39 1209.86,643.2 1211.97,644.15 1214.09,645.49 1216.2,645.03 1218.31,644.78 1220.42,645.06 1222.54,644.46 1224.65,645.58 1226.76,646.21 1228.88,645.8 1230.99,644.97 1233.1,645.95 1235.22,644.88 1237.35,644.48 1239.47,645.31 1241.6,644.27 1243.72,644.25 1245.85,643.96 1247.97,643.32 1250.1,642.58 1252.03,642.35 1253.96,640.22 1255.89,639.74 1257.81,639.14 1259.74,638.2 1261.67,635.99 1263.6,635.8 1264.73,633.67 1265.87,632.04 1267,630.16 1268.13,630.02 1269.27,627.97 1270.4,625.71 1270.91,624.55 1271.42,622.3 1271.93,619.94 1272.44,618.04 1272.95,615.16 1273.46,612.73 1273.97,612.15 1274.48,609.39 1274.99,607.46 1275.5,605.32 1278.05,603.86 1280.6,603.73 1281.7,600.59 1282.8,600.07 1283.9,596.94 1284.75,598.07 1285.6,601.12 1286.45,603.03 1287.3,605.19 1288.15,606.8 1289,608.75 1290.06,609.75 1291.12,612.77 1292.19,613 1293.25,616.37 1294.31,618.16 1295.38,618.01 1296.44,620.9 1297.5,622.37 1298.63,623.53 1299.77,624.94 1300.9,627.47 1303.01,628.33 1305.12,627.79 1307.24,627.56 1309.35,627.66 1311.46,628.12 1313.58,628.97 1315.69,629.11 1317.8,629.11 1320,630.61 1322.26,629.42 1324.52,629.45 1326.78,630.07 1329.04,627.84 1331.3,628.34 1331.7,626.69 1332.1,623.27 1332.5,622.49 1332.9,620.34 1333.3,617.52 1333.7,616.3 1334.1,613.74 1335.52,614.42 1336.93,616.16 1338.35,619.18 1339.77,619.96 1341.18,622.2 1342.6,622.76 1344.86,622.42 1347.12,620.87 1349.38,620.52 1351.64,620.52 1353.9,620.49 1355.83,620.77 1357.76,622.71 1359.69,622.8 1361.61,623.11 1363.54,624 1365.47,625.23 1367.4,625.13 1369.65,624.6 1371.9,624.62 1374.15,624 1376.4,623.95 1378.28,623.63 1380.17,622.75 1382.05,622.04 1383.93,619.68 1385.82,618.85 1387.7,618.38 1389.58,618.34 1391.47,616.51 1393.35,614.81 1395.23,614.21 1397.12,612.75 1399,612.71 1400.88,610.79 1402.77,610.37 1404.65,609.96 1406.53,608.19 1408.42,606.85 1410.3,606.04 1412.18,605.07 1414.07,604.4 1415.95,603.74 1417.83,602.86 1419.72,601.74 1421.6,600.38 1423.87,599.45 1426.13,598.24 1428.4,598.2 1428.58,596.12 1428.77,594.89 1428.95,592.87 1429.13,589.25 1429.32,588.4 1429.5,585.8 1431.75,586.48 1434,586.83 1436.25,589.24 1438.5,589.13 1440.61,588.71 1442.72,590.34 1444.84,589.91 1446.95,589.25 1449.06,590.06 1451.18,590.87 1453.29,589.75 1455.4,590.38 1457.53,590.09 1459.65,589.64 1461.78,589.97 1463.9,590.6 1466.03,591.1 1468.15,590.06 1470.28,591.05 1472.4,590.44 1474.66,590.51 1476.92,588.7 1479.18,589.01 1481.44,587.03 1483.7,587.08 1485.3,585.89 1486.9,584.62 1488.5,583.99 1490.1,582.3 1491.7,579.95 1493.3,579.66 1494.9,578.02 1496.6,575.98 1498.3,576.51 1500,574.34 1502.17,573.78 1504.33,573.42 1506.5,573.73 1508.67,573.06 1510.83,572.08 1513,571.78 1515.18,571.84 1517.37,569.81 1519.55,569.2 1521.73,570.01 1523.92,568.21 1526.1,567.93 1527.83,567.15 1529.57,565.65 1531.3,564.26 1533.03,562.83 1534.77,562.99 1536.5,561.47 1538.02,560.65 1539.53,557.78 1541.05,557.12 1542.57,554.82 1544.08,554.21 1545.6,552.41 1547.06,550.79 1548.51,548.42 1549.97,548.59 1551.42,546.78 1552.88,544.33 1554.33,543.62 1555.79,541.54 1557.24,538.86 1558.7,538.06 1560.14,536.5 1561.59,535.89 1563.03,534.72 1564.48,532.57 1565.92,531.06 1567.37,530.31 1568.81,527.34 1570.26,526.25 1571.7,525.12 1573.57,523.02 1575.44,523.12 1577.31,522.16 1579.19,519.21 1581.06,518.2 1582.93,516.78 1584.8,515.97 1586.66,515.49 1588.51,514.36 1590.37,511.77 1592.23,511.69 1594.09,511.24 1595.94,508.73 1597.8,508.23 1599.67,506.72 1601.54,505.9 1603.41,506.13 1605.29,504.07 1607.16,502.99 1609.03,501.71 1610.9,501.79 1613.07,501.98 1615.23,499.95 1617.4,499.35 1619.57,499.98 1621.73,498.41 1623.9,497.95 1626.07,497.6 1628.23,496.96 1630.4,495.37 1630.73,492.31 1631.05,491.28 1631.38,488.38 1631.7,486.18 1631.75,484.16 1631.81,481.23 1631.86,479.63 1631.92,477.88 1631.97,475.81 1632.02,473.96 1632.08,472.49 1632.13,470.25 1632.18,467.63 1632.24,466.02 1632.29,464.42 1632.35,462.8 1632.4,460.18 1632.55,458.38 1632.7,455.94 1632.85,453.46 1633,450.99 1634.33,453.03 1635.65,455.46 1636.97,456.48 1638.3,458.91 1639.86,460.88 1641.42,462.34 1642.98,463.48 1644.54,463.56 1646.1,465.45 1648.05,465.53 1650,466.85 1651.95,469.31 1653.9,469.39 1654.9,468.25 1655.9,465.5 1655.99,464.24 1656.07,461.03 1656.16,458.01 1656.24,456.9 1656.33,455.08 1656.41,451.9 1656.5,449.8" fill="none" stroke="#909090" stroke-width="1.5" stroke-linejoin="round" stroke-linecap="round" stroke-dasharray="1.5,4"/>
<polyline points="1049.5,579.3 1050.34,580.26 1051.18,583 1052.02,585.69 1052.86,587.04 1053.7,590 1055.16,590.88 1056.61,593.99 1058.07,595.74 1059.53,596.3 1060.99,598.4 1062.44,600.73 1063.9,601.3 1065.16,602.13 1066.43,604.42 1067.69,605.17 1068.95,607.56 1070.21,609.45 1071.47,611.95 1072.74,613.16 1074,614.8 1075.7,615.61 1077.4,616.68 1079.1,618.09 1080.8,619.62 1082.5,620.99 1084.2,623.05 1085.9,625 1087.87,626.69 1089.83,627.42 1091.8,627.14 1093.77,627.95 1095.73,630.26 1097.7,630.9 1099.81,632.4 1101.92,631.04 1104.04,632.51 1106.15,633.15 1108.26,632.95 1110.38,633.05 1112.49,633.42 1114.6,633.4 1116.72,634.4 1118.85,635.2 1120.97,633.76 1123.1,635.01 1125.22,635.49 1127.35,635.82 1129.47,635.43 1131.6,636.8 1133.71,638.13 1135.82,637.14 1137.94,637.02 1140.05,638 1142.16,638.87 1144.28,638.38 1146.39,639.03 1148.5,639.3 1150.61,639.55 1152.72,640.33 1154.84,639.84 1156.95,640.11 1159.06,639.29 1161.18,640.99 1163.29,639.26 1165.4,640.2 1167.53,639.94 1169.65,640.46 1171.78,639.87 1173.9,640.45 1176.03,639.41 1178.15,639.36 1180.28,639.65 1182.4,640.2 1184.51,641.22 1186.62,639.72 1188.74,639.68 1190.85,640.05 1192.96,641.54 1195.08,641.87 1197.19,642.38 1199.3,641.9 1201.41,643.2 1203.53,642.38 1205.64,643.47 1207.75,642.2 1209.86,644.18 1211.97,643.55 1214.09,644.1 1216.2,644.4 1218.31,645.28 1220.42,645.37 1222.54,644.41 1224.65,645.57 1226.76,643.98 1228.88,643.94 1230.99,645.2 1233.1,645.3 1235.22,645.21 1237.35,645.21 1239.47,644.15 1241.6,643.85 1243.72,642.14 1245.85,642.25 1247.97,643.45 1250.1,641.9 1252.03,640.79 1253.96,640.16 1255.89,638.54 1257.81,639.13 1259.74,637.19 1261.67,637.21 1263.6,635.1 1264.73,633.52 1265.87,632.11 1267,629.58 1268.13,627.31 1269.27,625.75 1270.4,625 1270.91,622.79 1271.42,621.09 1271.93,618.2 1272.44,617.65 1272.95,615.67 1273.46,613.19 1273.97,610.21 1274.48,608.86 1274.99,605.49 1275.5,604.6 1278.05,603.7 1280.6,603 1281.7,600.31 1282.8,598.59 1283.9,596.2 1284.75,598.5 1285.6,600.16 1286.45,601.13 1287.3,604.11 1288.15,605.65 1289,608 1290.06,609.38 1291.12,610.96 1292.19,613.9 1293.25,614.3 1294.31,616.04 1295.38,617.59 1296.44,620.89 1297.5,621.6 1298.63,623.33 1299.77,625.23 1300.9,626.7 1303.01,627.14 1305.12,626.48 1307.24,627.14 1309.35,627.42 1311.46,628.77 1313.58,628.76 1315.69,628.82 1317.8,628.3 1320,629.8 1322.26,628.46 1324.52,628.99 1326.78,627.53 1329.04,628.7 1331.3,627.5 1331.7,624.25 1332.1,622.75 1332.5,621.73 1332.9,618.82 1333.3,617.53 1333.7,616.02 1334.1,612.9 1335.52,614.16 1336.93,615.12 1338.35,617.76 1339.77,618.42 1341.18,621.12 1342.6,621.9 1344.86,620.68 1347.12,621.32 1349.38,620.59 1351.64,619.87 1353.9,619.6 1355.83,621.21 1357.76,622.01 1359.69,621.31 1361.61,622.67 1363.54,622.16 1365.47,623.94 1367.4,624.2 1369.65,624.05 1371.9,624.74 1374.15,622.79 1376.4,623 1378.28,622.45 1380.17,620.89 1382.05,619.95 1383.93,619 1385.82,617.47 1387.7,617.4 1389.58,616.48 1391.47,615.11 1393.35,614.68 1395.23,612.49 1397.12,611.65 1399,611.7 1400.88,611.02 1402.77,608.45 1404.65,608.49 1406.53,606.45 1408.42,605.78 1410.3,605 1412.18,604.73 1414.07,604.04 1415.95,602.05 1417.83,600.8 1419.72,600.49 1421.6,599.3 1423.87,599.73 1426.13,598.77 1428.4,597.1 1428.58,594.27 1428.77,593.08 1428.95,590.12 1429.13,587.85 1429.32,587.71 1429.5,584.7 1431.75,585.6 1434,586.3 1436.25,588.05 1438.5,588 1440.61,588.21 1442.72,587.44 1444.84,588.57 1446.95,589.75 1449.06,589.5 1451.18,590.03 1453.29,588.54 1455.4,589.2 1457.53,588.2 1459.65,588.49 1461.78,590.21 1463.9,590.28 1466.03,588.53 1468.15,589.12 1470.28,589.06 1472.4,589.2 1474.66,588.84 1476.92,588.53 1479.18,586.19 1481.44,587.55 1483.7,585.8 1485.3,584.27 1486.9,582.58 1488.5,582.12 1490.1,580.51 1491.7,579.11 1493.3,578.4 1494.9,576.7 1496.6,574.48 1498.3,574.11 1500,573 1502.17,571.88 1504.33,571.07 1506.5,571.88 1508.67,570.14 1510.83,571.66 1513,570.4 1515.18,570.39 1517.37,569.32 1519.55,568.76 1521.73,568.01 1523.92,568.07 1526.1,566.5 1527.83,565.38 1529.57,563.48 1531.3,563.01 1533.03,563.11 1534.77,560.99 1536.5,560 1538.02,558.11 1539.53,556.15 1541.05,554.47 1542.57,555.09 1544.08,553.1 1545.6,550.9 1547.06,549.69 1548.51,547.31 1549.97,545.94 1551.42,543.77 1552.88,542.4 1554.33,541.74 1555.79,538.61 1557.24,538.1 1558.7,536.5 1560.14,535.07 1561.59,532.5 1563.03,531.58 1564.48,531.31 1565.92,530.34 1567.37,527.26 1568.81,525.85 1570.26,524.78 1571.7,523.5 1573.34,522.41 1574.97,521.08 1576.61,519.97 1578.25,519.06 1579.89,518.76 1581.53,517.05 1583.16,514.67 1584.8,514.3 1586.66,512.26 1588.51,512.65 1590.37,511.38 1592.23,510.34 1594.09,508.03 1595.94,506.92 1597.8,506.5 1599.67,505.97 1601.54,503.89 1603.41,503.31 1605.29,503.33 1607.16,501.81 1609.03,499.84 1610.9,500 1613.07,500.16 1615.23,499.45 1617.4,496.99 1619.57,497.27 1621.73,495.71 1623.9,496.1 1626.07,494.11 1628.23,495.29 1630.4,493.5 1630.73,491.78 1631.05,488.91 1631.38,485.61 1631.7,484.3 1631.75,481.66 1631.81,479.43 1631.86,477.22 1631.92,476.09 1631.97,473.91 1632.02,472.61 1632.08,470.1 1632.13,467.24 1632.18,467.22 1632.24,463.12 1632.29,461.19 1632.35,460.99 1632.4,458.3 1632.55,455.83 1632.7,453.03 1632.85,452.57 1633,449.1 1634.33,449.94 1635.65,453.87 1636.97,455.87 1638.3,457 1639.86,459.16 1641.42,459.58 1642.98,460.88 1644.54,461.9 1646.1,463.5 1648.05,463.51 1650,465.16 1651.95,465.98 1653.9,467.4 1654.9,466.55 1655.9,463.5 1655.99,461.56 1656.07,458.8 1656.16,457.87 1656.24,454.53 1656.33,452.35 1656.41,449.09 1656.5,447.8" fill="none" stroke="#c81ccc" stroke-width="3.2" stroke-linejoin="round" stroke-linecap="round" stroke-dasharray="8,3,2,3"/>
<polyline points="1037.3,661 1037.48,658.53 1037.66,657.03 1037.84,654.8 1038.02,652.67 1038.2,650.67 1038.38,648.12 1038.56,646.77 1038.74,644.44 1038.92,642.67 1039.1,640.68 1039.28,638.07 1039.46,636.31 1039.64,634.05 1039.82,632.16 1040,630 1040.13,628.17 1040.27,625.5 1040.4,623.97 1040.53,622.4 1040.67,619.85 1040.8,617.97 1040.93,615.6 1041.07,614.13 1041.2,612.1 1041.33,609.55 1041.47,607.81 1041.6,605.73 1041.73,604.33 1041.87,601.9 1042,600 1042.23,598.39 1042.47,596.3 1042.7,594.16 1042.93,591.93 1043.17,590.38 1043.4,588.13 1043.63,586.08 1043.87,583.65 1044.1,582.23 1044.33,579.8 1044.57,578.4 1044.8,575.55 1045.03,573.79 1045.27,572.17 1045.5,570 1045.76,567.5 1046.01,565.92 1046.27,563.77 1046.53,561.69 1046.79,559.03 1047.04,557.55 1047.3,555 1047.48,552.38 1047.66,550.2 1047.84,548.39 1048.02,546.22 1048.2,543.6 1048.27,545.91 1048.33,547.95 1048.4,550.28 1048.47,552.14 1048.53,554.05 1048.6,556 1048.82,558.07 1049.05,561.16 1049.28,563.59 1049.5,565.7 1050.08,567.44 1050.66,569.92 1051.24,572.51 1051.82,574.71 1052.4,576.4 1053.65,577.75 1054.9,579.8 1056.57,581.11 1058.23,582.88 1059.9,583.9 1061.53,585.73 1063.17,586.42 1064.8,588 1065.85,589.75 1066.9,591.78 1067.95,593.92 1069,595.5 1069.83,597.25 1070.67,599.52 1071.5,602.1 1073.13,603.84 1074.77,604.4 1076.4,606.3 1078.1,608.69 1079.8,610.4 1081.85,612.68 1083.9,614.6 1085.83,616.51 1087.77,617.76 1089.7,619.6 1091.7,620.3 1093.7,621.73 1095.7,623.41 1097.7,624.1 1099.81,624.57 1101.92,624.49 1104.04,625.75 1106.15,626.15 1108.26,626.18 1110.38,626.9 1112.49,627.06 1114.6,627.5 1116.72,628.36 1118.85,628.17 1120.97,629.46 1123.1,629.25 1125.22,629.93 1127.35,631.05 1129.47,630.73 1131.6,631.7 1133.71,632.54 1135.82,632.31 1137.94,633.37 1140.05,633.08 1142.16,633.76 1144.28,634.27 1146.39,634.98 1148.5,635.1 1150.61,635.79 1152.72,636 1154.84,635.37 1156.95,635.64 1159.06,636.37 1161.18,636.27 1163.29,636.23 1165.4,636.8 1167.53,636.98 1169.65,636.75 1171.78,637.11 1173.9,636.9 1176.03,636.48 1178.15,636.91 1180.28,636.67 1182.4,636.8 1184.51,636.66 1186.62,637.42 1188.74,636.96 1190.85,638.02 1192.96,637.56 1195.08,637.88 1197.19,637.79 1199.3,638.5 1201.41,638.75 1203.53,639.59 1205.64,640.2 1207.75,640.38 1209.86,640.93 1211.97,641.09 1214.09,641.42 1216.2,641.9 1218.31,641.49 1220.42,641.8 1222.54,641.58 1224.65,641.61 1226.76,642.33 1228.88,641.41 1230.99,642.31 1233.1,641.9 1235.22,641.38 1237.35,640.68 1239.47,640.58 1241.6,639.75 1243.72,640.22 1245.85,639.48 1247.97,638.54 1250.1,638.5 1252.03,637.18 1253.96,635.77 1255.89,634.94 1257.81,633.58 1259.74,632.28 1261.67,631.17 1263.6,630 1264.73,627.9 1265.87,626.42 1267,624.48 1268.13,621.7 1269.27,620.09 1270.4,618.2 1270.83,615.88 1271.25,613.58 1271.68,611.79 1272.1,609.68 1272.53,607.3 1272.95,605.88 1273.38,603.68 1273.8,601.07 1274.22,599.27 1274.65,596.62 1275.08,594.54 1275.5,592.8 1277.6,593.21 1279.7,594.5 1280.23,592.33 1280.75,590.2 1281.28,588.16 1281.8,585.95 1282.33,583.67 1282.85,582.03 1283.38,579.85 1283.9,577.6 1284.39,579.78 1284.87,581.63 1285.36,583.62 1285.84,586.67 1286.33,588.79 1286.81,591.09 1287.3,592.8 1287.92,594.64 1288.54,596.94 1289.15,598.86 1289.77,601.02 1290.39,602.38 1291.01,604.69 1291.63,606.46 1292.25,608.71 1292.86,610.43 1293.48,612.62 1294.1,614.8 1295.8,616.83 1297.5,617.99 1299.2,620.27 1300.9,621.6 1303.01,622.09 1305.12,622.11 1307.24,622.35 1309.35,622.57 1311.46,622.34 1313.58,622.63 1315.69,623.09 1317.8,623.3 1320.05,622.58 1322.3,623.04 1324.55,622.9 1326.8,622.14 1329.05,622.17 1331.3,621.9 1331.54,619.89 1331.79,618.25 1332.03,616.24 1332.28,613.78 1332.52,611.36 1332.77,610.33 1333.01,608.05 1333.26,606.01 1333.5,603.8 1335.2,605.68 1336.9,607.2 1338.33,608.22 1339.75,610.19 1341.17,611.97 1342.6,612.9 1344.83,612.31 1347.07,611.8 1349.3,611.7 1351.28,611.02 1353.25,610.76 1355.22,610.24 1357.2,609.5 1359.17,610.58 1361.15,611.68 1363.12,612.76 1365.1,614 1367.37,614.09 1369.63,614.54 1371.9,615.1 1374.17,613.98 1376.43,613.88 1378.7,612.9 1380.5,612.26 1382.3,611.54 1384.1,610.36 1385.9,609.37 1387.7,608.4 1389.58,607.22 1391.47,605.51 1393.35,604.58 1395.23,603.14 1397.12,602.31 1399,600.5 1400.88,599.01 1402.77,597.75 1404.65,597.05 1406.53,595.46 1408.42,593.45 1410.3,592.6 1412.18,591.47 1414.07,590.34 1415.95,589.36 1417.83,588.38 1419.72,586.49 1421.6,585.8 1423.47,584.1 1425.33,582.38 1427.2,581.3 1427.44,578.76 1427.69,576.78 1427.93,574.33 1428.17,572.67 1428.41,569.92 1428.66,567.33 1428.9,565.5 1430.9,566.83 1432.9,567.7 1435.7,567.92 1438.5,568.8 1440.4,567.41 1442.3,566.19 1444.2,565.5 1447,564.85 1449.8,564.9 1452.06,565.39 1454.32,566.07 1456.58,566.14 1458.84,566.38 1461.1,567.2 1463.36,567.46 1465.62,568.01 1467.88,568.14 1470.14,568.54 1472.4,569.4 1474.66,568.44 1476.92,568.2 1479.18,566.96 1481.44,566.51 1483.7,565.5 1485.28,564.01 1486.86,563.26 1488.44,561.19 1490.02,560.03 1491.6,558.7 1493.4,557.46 1495.2,557.16 1497,556.45 1498.8,555.5 1500.6,554.2 1502.72,553.63 1504.85,552.18 1506.97,551.94 1509.1,550.9 1511.73,551.21 1514.37,551.16 1517,550.9 1519.28,549.49 1521.55,548.75 1523.82,547.84 1526.1,547 1528.05,545.45 1530,544.09 1531.95,543.33 1533.9,541.7 1535.2,540.13 1536.5,538.33 1537.8,536.94 1539.1,535.2 1540.85,533.5 1542.6,531.68 1544.35,530.84 1546.1,529.06 1547.85,527.75 1549.6,526.1 1550.71,524.1 1551.83,522.36 1552.94,520.56 1554.06,518.33 1555.17,516.45 1556.29,515.01 1557.4,513 1559.13,511.54 1560.87,509.94 1562.6,508.31 1564.33,507.13 1566.07,505.84 1567.8,503.9 1569.3,502 1570.8,501.29 1572.3,499.52 1573.8,498.21 1575.3,496.56 1576.8,495.18 1578.3,493.5 1579.74,492.17 1581.19,490.74 1582.63,489.13 1584.08,487.61 1585.52,486.37 1586.97,484.86 1588.41,483.02 1589.86,482.34 1591.3,480.4 1593.04,479.36 1594.79,478.77 1596.53,477.19 1598.28,476.63 1600.02,475.54 1601.77,474.13 1603.51,473.51 1605.26,471.95 1607,471.3 1608.95,470.58 1610.9,469.65 1612.85,468.5 1614.8,467.75 1616.75,466.21 1618.7,465.44 1620.65,464.16 1622.6,463.5 1624.77,464.34 1626.93,464.85 1629.1,464.8 1629.97,462.53 1630.83,459.99 1631.7,458.3 1631.74,456.05 1631.79,454.63 1631.83,451.86 1631.88,449.77 1631.92,448 1631.96,445.82 1632.01,443.87 1632.05,442.04 1632.09,440.37 1632.14,437.67 1632.18,436.08 1632.23,433.69 1632.27,431.87 1632.31,429.64 1632.36,428.04 1632.4,425.6 1632.46,423.78 1632.52,421.62 1632.58,419.78 1632.64,417.12 1632.7,415.36 1632.76,413.59 1632.82,411.27 1632.88,408.68 1632.94,406.61 1633,404.8 1633,407.25 1633,409.43 1633,411.3 1634.58,412.36 1636.16,413.74 1637.74,415.43 1639.32,416.65 1640.9,417.8 1642.53,419.21 1644.15,421.06 1645.78,423.13 1647.4,424.3 1649.2,425.59 1651,427.47 1652.8,429.39 1654.6,430.9 1655.25,428.09 1655.9,425.6 1655.95,423.51 1655.99,421.33 1656.04,418.89 1656.08,417.62 1656.13,415.1 1656.18,412.87 1656.22,410.92 1656.27,409.12 1656.32,406.24 1656.36,404.52 1656.41,402.62 1656.45,400.16 1656.5,398.3" fill="none" stroke="#00006e" stroke-width="3" stroke-linejoin="round" stroke-linecap="round" stroke-dasharray="7,3.5"/>
<line x1="155.3" y1="1483.45" x2="163.3" y2="1483.45" stroke="#222" stroke-width="1.4" />
<line x1="874.4" y1="1483.45" x2="866.4" y2="1483.45" stroke="#222" stroke-width="1.4" />
<line x1="155.3" y1="1405.5" x2="163.3" y2="1405.5" stroke="#222" stroke-width="1.4" />
<line x1="874.4" y1="1405.5" x2="866.4" y2="1405.5" stroke="#222" stroke-width="1.4" />
<line x1="155.3" y1="1327.55" x2="163.3" y2="1327.55" stroke="#222" stroke-width="1.4" />
<line x1="874.4" y1="1327.55" x2="866.4" y2="1327.55" stroke="#222" stroke-width="1.4" />
<line x1="155.3" y1="1249.6" x2="163.3" y2="1249.6" stroke="#222" stroke-width="1.4" />
<line x1="874.4" y1="1249.6" x2="866.4" y2="1249.6" stroke="#222" stroke-width="1.4" />
<line x1="155.3" y1="1171.65" x2="163.3" y2="1171.65" stroke="#222" stroke-width="1.4" />
<line x1="874.4" y1="1171.65" x2="866.4" y2="1171.65" stroke="#222" stroke-width="1.4" />
<line x1="200.23" y1="1561.7" x2="200.23" y2="1557.7" stroke="#222" stroke-width="1.4" />
<line x1="245.16" y1="1561.7" x2="245.16" y2="1557.7" stroke="#222" stroke-width="1.4" />
<line x1="290.09" y1="1561.7" x2="290.09" y2="1557.7" stroke="#222" stroke-width="1.4" />
<line x1="335.02" y1="1561.7" x2="335.02" y2="1554.7" stroke="#222" stroke-width="1.4" />
<line x1="335.02" y1="1093" x2="335.02" y2="1100" stroke="#222" stroke-width="1.4" />
<line x1="379.95" y1="1561.7" x2="379.95" y2="1557.7" stroke="#222" stroke-width="1.4" />
<line x1="424.88" y1="1561.7" x2="424.88" y2="1557.7" stroke="#222" stroke-width="1.4" />
<line x1="469.81" y1="1561.7" x2="469.81" y2="1557.7" stroke="#222" stroke-width="1.4" />
<line x1="514.74" y1="1561.7" x2="514.74" y2="1554.7" stroke="#222" stroke-width="1.4" />
<line x1="514.74" y1="1093" x2="514.74" y2="1100" stroke="#222" stroke-width="1.4" />
<line x1="559.67" y1="1561.7" x2="559.67" y2="1557.7" stroke="#222" stroke-width="1.4" />
<line x1="604.6" y1="1561.7" x2="604.6" y2="1557.7" stroke="#222" stroke-width="1.4" />
<line x1="649.53" y1="1561.7" x2="649.53" y2="1557.7" stroke="#222" stroke-width="1.4" />
<line x1="694.46" y1="1561.7" x2="694.46" y2="1554.7" stroke="#222" stroke-width="1.4" />
<line x1="694.46" y1="1093" x2="694.46" y2="1100" stroke="#222" stroke-width="1.4" />
<line x1="739.39" y1="1561.7" x2="739.39" y2="1557.7" stroke="#222" stroke-width="1.4" />
<line x1="784.32" y1="1561.7" x2="784.32" y2="1557.7" stroke="#222" stroke-width="1.4" />
<line x1="829.25" y1="1561.7" x2="829.25" y2="1557.7" stroke="#222" stroke-width="1.4" />
<rect x="155.3" y="1093.0" width="719.1" height="468.7" fill="none" stroke="#222" stroke-width="1.8"/>
<text x="88.77" y="1490.45" style="font-family:'Liberation Sans',Arial,sans-serif;font-size:17.6px" fill="#111" stroke="#111" stroke-width="0.45" textLength="56.76" lengthAdjust="spacingAndGlyphs" >10000</text>
<text x="89.29" y="1412.5" style="font-family:'Liberation Sans',Arial,sans-serif;font-size:17.6px" fill="#111" stroke="#111" stroke-width="0.45" textLength="56.24" lengthAdjust="spacingAndGlyphs" >20000</text>
<text x="89.49" y="1334.55" style="font-family:'Liberation Sans',Arial,sans-serif;font-size:17.6px" fill="#111" stroke="#111" stroke-width="0.45" textLength="56.03" lengthAdjust="spacingAndGlyphs" >30000</text>
<text x="89.9" y="1256.6" style="font-family:'Liberation Sans',Arial,sans-serif;font-size:17.6px" fill="#111" stroke="#111" stroke-width="0.45" textLength="55.62" lengthAdjust="spacingAndGlyphs" >40000</text>
<text x="89.49" y="1178.65" style="font-family:'Liberation Sans',Arial,sans-serif;font-size:17.6px" fill="#111" stroke="#111" stroke-width="0.45" textLength="56.03" lengthAdjust="spacingAndGlyphs" >50000</text>
<text x="89.29" y="1100.7" style="font-family:'Liberation Sans',Arial,sans-serif;font-size:17.6px" fill="#111" stroke="#111" stroke-width="0.45" textLength="56.24" lengthAdjust="spacingAndGlyphs" >60000</text>
<text x="134.08" y="1568" style="font-family:'Liberation Sans',Arial,sans-serif;font-size:17.6px" fill="#111" stroke="#111" stroke-width="0.45" textLength="12.75" lengthAdjust="spacingAndGlyphs" >0</text>
<text x="136.14" y="1587.9" style="font-family:'Liberation Sans',Arial,sans-serif;font-size:17.6px" fill="#111" stroke="#111" stroke-width="0.45" textLength="50.88" lengthAdjust="spacingAndGlyphs" >08:00</text>
<text x="316.1" y="1587.9" style="font-family:'Liberation Sans',Arial,sans-serif;font-size:17.6px" fill="#111" stroke="#111" stroke-width="0.45" textLength="51.62" lengthAdjust="spacingAndGlyphs" >10:00</text>
<text x="495.6" y="1587.9" style="font-family:'Liberation Sans',Arial,sans-serif;font-size:17.6px" fill="#111" stroke="#111" stroke-width="0.45" textLength="51.62" lengthAdjust="spacingAndGlyphs" >12:00</text>
<text x="675.1" y="1587.9" style="font-family:'Liberation Sans',Arial,sans-serif;font-size:17.6px" fill="#111" stroke="#111" stroke-width="0.45" textLength="51.62" lengthAdjust="spacingAndGlyphs" >14:00</text>
<clipPath id="clipC"><rect x="0" y="1500" width="894.4" height="120"/></clipPath>
<g clip-path="url(#clipC)">
<text x="854.8" y="1587.9" style="font-family:'Liberation Sans',Arial,sans-serif;font-size:17.6px" fill="#111" stroke="#111" stroke-width="0.45" textLength="51.62" lengthAdjust="spacingAndGlyphs" >16:00</text>
</g>
<text x="471.31" y="1627.3" style="font-family:'Liberation Sans',Arial,sans-serif;font-size:22.8px" fill="#111" stroke="#111" stroke-width="0.45" textLength="88.17" lengthAdjust="spacingAndGlyphs" >Time, hr</text>
<text transform="translate(67.9,1465.6) rotate(-90)" x="-1.76" y="0" style="font-family:'Liberation Sans',Arial,sans-serif;font-size:24.6px" fill="#111" stroke="#111" stroke-width="0.4" textLength="271.27" lengthAdjust="spacingAndGlyphs">Particle concentration, #/cm</text>
<text transform="translate(53.7,1197.5) rotate(-90)" x="-0.76" y="0" style="font-family:'Liberation Sans',Arial,sans-serif;font-size:16.5px" fill="#444" stroke="#444" stroke-width="0.4" textLength="10.54" lengthAdjust="spacingAndGlyphs">3</text>
<polyline points="239.3,1502.6 242.1,1502.22 244.9,1502.6 247.25,1503.8 249.6,1505 253.3,1503.5 257.9,1503.9 260.7,1506.54 263.5,1508.2 266.6,1508.19 269.7,1508.51 272.8,1509.1 275.9,1509.63 279,1509.38 282.1,1510 284.9,1509.62 287.7,1509.55 290.5,1509.41 293.3,1509.7 296.1,1509.35 298.9,1508.51 301.7,1508.79 304.5,1508.2 307.6,1507.56 310.7,1507.37 313.8,1506.3 316.27,1505.55 318.73,1504.57 321.2,1504.5 323.7,1504.13 326.2,1503.04 328.7,1502.8 331.8,1503.39 334.9,1503.9 338,1504.5 340.8,1503.95 343.6,1504.31 346.4,1504 349.2,1504.5 351.67,1505.22 354.13,1506.28 356.6,1507.2 359.4,1509.27 362.2,1511.3 365,1511.42 367.8,1510.6 370.3,1511.78 372.8,1512.02 375.3,1512.5 377.9,1513.62 380.5,1514.28 383.1,1515.65 385.7,1516.66 388.3,1518 390.77,1517.63 393.23,1516.87 395.7,1516.6 398.2,1516.83 400.7,1518.04 403.2,1518.8 406,1519.27 408.8,1518.7 411.6,1519.5 414.4,1519.3 416.2,1515.1 418.1,1519.3 419.95,1520.62 421.8,1523.1 424.9,1522.76 428,1522.42 431.1,1522.1 433.72,1522.2 436.34,1523.02 438.96,1524.05 441.58,1524.17 444.2,1524.4 446.8,1524.71 449.4,1525.68 452,1525.15 454.6,1526.16 457.2,1526.2 460.18,1526.12 463.16,1526.02 466.14,1526.19 469.12,1526.75 472.1,1526.8 474.76,1527.16 477.41,1527.01 480.07,1526.85 482.73,1527.07 485.39,1527.78 488.04,1527.67 490.7,1528.1 493.36,1528.25 496.01,1528.47 498.67,1528.06 501.33,1527.82 503.99,1527.91 506.64,1528.48 509.3,1528.1 511.97,1528.5 514.64,1527.73 517.31,1527.71 519.99,1527.75 522.66,1527.91 525.33,1528.2 528,1528.1 530.66,1527.41 533.31,1527.74 535.97,1526.63 538.63,1527.05 541.29,1526.56 543.94,1526.63 546.6,1525.9 549.07,1526.09 551.53,1526.92 554,1528.1 556.92,1528.11 559.84,1528.05 562.76,1528.57 565.68,1528.21 568.6,1528 570,1524.65 571.4,1521.9 572.35,1524.75 573.3,1526.6 574.45,1524.14 575.6,1521.98 576.75,1519.58 577.9,1517.2 580.23,1515.9 582.55,1515.1 584.88,1513.77 587.2,1513.1 589.7,1512.43 592.2,1510.59 594.7,1509.8 598.4,1509.03 602.1,1509.4 605.23,1509.06 608.37,1508.61 611.5,1507.9 614.25,1508.57 617,1509.8 618.9,1512.58 620.8,1515.4 622.2,1517.53 623.6,1520 625.9,1522.38 628.2,1523.8 631.3,1524.16 634.4,1524.9 637.5,1525.1 640.3,1526.31 643.1,1527.5 645,1524.7 646.8,1527.5 649.42,1528.26 652.04,1527.86 654.66,1528.14 657.28,1528.64 659.9,1528.4 661.7,1524.7 663.6,1528.8 667.3,1526.6 669.47,1528.88 671.63,1530.15 673.8,1532.1 676.38,1531.21 678.95,1531.53 681.52,1530.36 684.1,1530.3 685.95,1528.78 687.8,1526.6 691.5,1529.9 694.12,1530.3 696.74,1531.39 699.36,1531.46 701.98,1532.5 704.6,1532.5 707.07,1531.63 709.53,1530.8 712,1530.7 715.7,1533.6 718.5,1530.74 721.3,1528.8 723.2,1531.8 726,1533.09 728.8,1533.19 731.6,1533.64 734.4,1534.9 737.2,1533.92 740,1532.1 742.47,1533.71 744.93,1534.85 747.4,1536.8 750.2,1535.62 753,1534.4 755.47,1535.4 757.93,1536.78 760.4,1538.7 763.02,1538 765.64,1537.61 768.26,1537.02 770.88,1536.8 773.5,1536.8 775.97,1537.11 778.43,1538.37 780.9,1539.2 783.7,1539.74 786.5,1539.59 789.3,1539.95 792.1,1539.6 795.8,1538.1 798.28,1538.07 800.77,1538.62 803.25,1539.35 805.73,1539.53 808.22,1539.26 810.7,1540 813.8,1539.58 816.9,1538.69 820,1538.1 823.7,1540 826.5,1538.69 829.3,1536.9 832.1,1536.24 834.9,1534.9 837.7,1538.7 840.8,1538.02 843.9,1537.83 847,1537.7" fill="none" stroke="#111" stroke-width="1.5" stroke-linejoin="round" stroke-linecap="round" />
<line x1="1031.4" y1="1497.3" x2="1038.4" y2="1497.3" stroke="#222" stroke-width="1.4" />
<line x1="1730.8" y1="1497.3" x2="1723.8" y2="1497.3" stroke="#222" stroke-width="1.4" />
<line x1="1031.4" y1="1417.24" x2="1038.4" y2="1417.24" stroke="#222" stroke-width="1.4" />
<line x1="1730.8" y1="1417.24" x2="1723.8" y2="1417.24" stroke="#222" stroke-width="1.4" />
<line x1="1031.4" y1="1337.18" x2="1038.4" y2="1337.18" stroke="#222" stroke-width="1.4" />
<line x1="1730.8" y1="1337.18" x2="1723.8" y2="1337.18" stroke="#222" stroke-width="1.4" />
<line x1="1031.4" y1="1257.12" x2="1038.4" y2="1257.12" stroke="#222" stroke-width="1.4" />
<line x1="1730.8" y1="1257.12" x2="1723.8" y2="1257.12" stroke="#222" stroke-width="1.4" />
<line x1="1031.4" y1="1177.06" x2="1038.4" y2="1177.06" stroke="#222" stroke-width="1.4" />
<line x1="1730.8" y1="1177.06" x2="1723.8" y2="1177.06" stroke="#222" stroke-width="1.4" />
<line x1="1075.11" y1="1537.1" x2="1075.11" y2="1533.1" stroke="#222" stroke-width="1.4" />
<line x1="1118.82" y1="1537.1" x2="1118.82" y2="1533.1" stroke="#222" stroke-width="1.4" />
<line x1="1162.53" y1="1537.1" x2="1162.53" y2="1533.1" stroke="#222" stroke-width="1.4" />
<line x1="1206.24" y1="1537.1" x2="1206.24" y2="1530.6" stroke="#222" stroke-width="1.4" />
<line x1="1206.24" y1="1097" x2="1206.24" y2="1104" stroke="#222" stroke-width="1.4" />
<line x1="1249.95" y1="1537.1" x2="1249.95" y2="1533.1" stroke="#222" stroke-width="1.4" />
<line x1="1293.66" y1="1537.1" x2="1293.66" y2="1533.1" stroke="#222" stroke-width="1.4" />
<line x1="1337.37" y1="1537.1" x2="1337.37" y2="1533.1" stroke="#222" stroke-width="1.4" />
<line x1="1381.08" y1="1537.1" x2="1381.08" y2="1530.6" stroke="#222" stroke-width="1.4" />
<line x1="1381.08" y1="1097" x2="1381.08" y2="1104" stroke="#222" stroke-width="1.4" />
<line x1="1424.79" y1="1537.1" x2="1424.79" y2="1533.1" stroke="#222" stroke-width="1.4" />
<line x1="1468.5" y1="1537.1" x2="1468.5" y2="1533.1" stroke="#222" stroke-width="1.4" />
<line x1="1512.21" y1="1537.1" x2="1512.21" y2="1533.1" stroke="#222" stroke-width="1.4" />
<line x1="1555.92" y1="1537.1" x2="1555.92" y2="1530.6" stroke="#222" stroke-width="1.4" />
<line x1="1555.92" y1="1097" x2="1555.92" y2="1104" stroke="#222" stroke-width="1.4" />
<line x1="1599.63" y1="1537.1" x2="1599.63" y2="1533.1" stroke="#222" stroke-width="1.4" />
<line x1="1643.34" y1="1537.1" x2="1643.34" y2="1533.1" stroke="#222" stroke-width="1.4" />
<line x1="1687.05" y1="1537.1" x2="1687.05" y2="1533.1" stroke="#222" stroke-width="1.4" />
<rect x="1031.4" y="1097.0" width="699.4" height="440.1" fill="none" stroke="#222" stroke-width="1.8"/>
<text x="977.72" y="1103.1" style="font-family:'Liberation Sans',Arial,sans-serif;font-size:16.6px" fill="#111" stroke="#111" stroke-width="0.45" textLength="44.42" lengthAdjust="spacingAndGlyphs" >1e+5</text>
<text x="978.33" y="1183.16" style="font-family:'Liberation Sans',Arial,sans-serif;font-size:16.6px" fill="#111" stroke="#111" stroke-width="0.45" textLength="43.6" lengthAdjust="spacingAndGlyphs" >8e+4</text>
<text x="978.23" y="1263.22" style="font-family:'Liberation Sans',Arial,sans-serif;font-size:16.6px" fill="#111" stroke="#111" stroke-width="0.45" textLength="43.7" lengthAdjust="spacingAndGlyphs" >6e+4</text>
<text x="978.82" y="1343.28" style="font-family:'Liberation Sans',Arial,sans-serif;font-size:16.6px" fill="#111" stroke="#111" stroke-width="0.45" textLength="43.1" lengthAdjust="spacingAndGlyphs" >4e+4</text>
<text x="978.23" y="1423.34" style="font-family:'Liberation Sans',Arial,sans-serif;font-size:16.6px" fill="#111" stroke="#111" stroke-width="0.45" textLength="43.7" lengthAdjust="spacingAndGlyphs" >2e+4</text>
<text x="977.75" y="1503.2" style="font-family:'Liberation Sans',Arial,sans-serif;font-size:16.6px" fill="#111" stroke="#111" stroke-width="0.45" textLength="11.82" lengthAdjust="spacingAndGlyphs" >0</text>
<text x="1013.01" y="1562.4" style="font-family:'Liberation Sans',Arial,sans-serif;font-size:16.8px" fill="#111" stroke="#111" stroke-width="0.45" textLength="49.33" lengthAdjust="spacingAndGlyphs" >08:00</text>
<text x="1188.74" y="1562.4" style="font-family:'Liberation Sans',Arial,sans-serif;font-size:16.8px" fill="#111" stroke="#111" stroke-width="0.45" textLength="48.79" lengthAdjust="spacingAndGlyphs" >10:00</text>
<text x="1362.39" y="1562.4" style="font-family:'Liberation Sans',Arial,sans-serif;font-size:16.8px" fill="#111" stroke="#111" stroke-width="0.45" textLength="50.26" lengthAdjust="spacingAndGlyphs" >12:00</text>
<text x="1538.23" y="1562.4" style="font-family:'Liberation Sans',Arial,sans-serif;font-size:16.8px" fill="#111" stroke="#111" stroke-width="0.45" textLength="48.9" lengthAdjust="spacingAndGlyphs" >14:00</text>
<text x="1711.89" y="1562.4" style="font-family:'Liberation Sans',Arial,sans-serif;font-size:16.8px" fill="#111" stroke="#111" stroke-width="0.45" textLength="50.47" lengthAdjust="spacingAndGlyphs" >16:00</text>
<text x="1339.53" y="1598.5" style="font-family:'Liberation Sans',Arial,sans-serif;font-size:21.6px" fill="#111" stroke="#111" stroke-width="0.45" textLength="84.83" lengthAdjust="spacingAndGlyphs" >Time, hr</text>
<text transform="translate(955.8,1448) rotate(-90)" x="-1.67" y="0" style="font-family:'Liberation Sans',Arial,sans-serif;font-size:24px" fill="#111" stroke="#111" stroke-width="0.4" textLength="257.1" lengthAdjust="spacingAndGlyphs">Particle concentration, #/cm</text>
<text transform="translate(942.6,1191.6) rotate(-90)" x="-0.55" y="0" style="font-family:'Liberation Sans',Arial,sans-serif;font-size:15.5px" fill="#444" stroke="#444" stroke-width="0.4" textLength="7.61" lengthAdjust="spacingAndGlyphs">3</text>
<line x1="1113.2" y1="1497.3" x2="1704.9" y2="1497.3" stroke="#111" stroke-width="1.6" />
<line x1="2.2" y1="7.6" x2="1767.2" y2="7.6" stroke="#000" stroke-width="2.3" />
<line x1="2.2" y1="1680.5" x2="1767.2" y2="1680.5" stroke="#000" stroke-width="2.3" />
<line x1="3.3" y1="6.4" x2="3.3" y2="1681.7" stroke="#000" stroke-width="2.3" />
<line x1="1766" y1="6.4" x2="1766" y2="1681.7" stroke="#000" stroke-width="2.3" />
<line x1="2.2" y1="95" x2="1767.2" y2="95" stroke="#000" stroke-width="2.3" />
<line x1="2.2" y1="182.3" x2="1767.2" y2="182.3" stroke="#000" stroke-width="2.3" />
<line x1="2.2" y1="898.1" x2="1767.2" y2="898.1" stroke="#000" stroke-width="2.3" />
<line x1="2.2" y1="985.3" x2="1767.2" y2="985.3" stroke="#000" stroke-width="2.3" />
<line x1="2.2" y1="1072.1" x2="1767.2" y2="1072.1" stroke="#000" stroke-width="2.3" />
<line x1="895.6" y1="95" x2="895.6" y2="898.1" stroke="#000" stroke-width="2.3" />
<line x1="895.6" y1="985.3" x2="895.6" y2="1680.5" stroke="#000" stroke-width="2.3" />
<text x="24.19" y="51.2" style="font-family:'Liberation Serif','Times New Roman',serif;font-size:47.1px" fill="#000" stroke="#000" stroke-width="0.3" textLength="515.08" lengthAdjust="spacingAndGlyphs" >Before exposure mitigation</text>
<text x="25.43" y="942.2" style="font-family:'Liberation Serif','Times New Roman',serif;font-size:47.1px" fill="#000" stroke="#000" stroke-width="0.3" textLength="481.79" lengthAdjust="spacingAndGlyphs" >After exposure mitigation</text>
<text x="80.58" y="138.6" style="font-family:'Liberation Serif','Times New Roman',serif;font-size:47.1px" fill="#000" stroke="#000" stroke-width="0.3" textLength="136.95" lengthAdjust="spacingAndGlyphs" >DMAS</text>
<text x="78.5" y="1028.6" style="font-family:'Liberation Serif','Times New Roman',serif;font-size:47.1px" fill="#000" stroke="#000" stroke-width="0.3" textLength="135.3" lengthAdjust="spacingAndGlyphs" >DMAS</text>
<text x="968.01" y="138.9" style="font-family:'Liberation Serif','Times New Roman',serif;font-size:47.1px" fill="#000" stroke="#000" stroke-width="0.3" textLength="777.49" lengthAdjust="spacingAndGlyphs" >PM sensor (PM) and Dust monitor (OPC)</text>
<text x="970.81" y="1029.4" style="font-family:'Liberation Serif','Times New Roman',serif;font-size:47.1px" fill="#000" stroke="#000" stroke-width="0.3" textLength="774.67" lengthAdjust="spacingAndGlyphs" >PM sensor (PM) and Dust monitor (OPC)</text>
<text x="26.81" y="134.5" style="font-family:'Liberation Sans',Arial,sans-serif;font-weight:bold;font-size:38px" fill="#000" stroke="#000" stroke-width="0.2" textLength="28.46" lengthAdjust="spacingAndGlyphs" >A</text>
<text x="917.85" y="134.7" style="font-family:'Liberation Sans',Arial,sans-serif;font-weight:bold;font-size:38px" fill="#000" stroke="#000" stroke-width="0.2" textLength="26.16" lengthAdjust="spacingAndGlyphs" >B</text>
<text x="27.27" y="1024" style="font-family:'Liberation Sans',Arial,sans-serif;font-weight:bold;font-size:38px" fill="#000" stroke="#000" stroke-width="0.2" textLength="25.8" lengthAdjust="spacingAndGlyphs" >C</text>
<text x="917.86" y="1024.4" style="font-family:'Liberation Sans',Arial,sans-serif;font-weight:bold;font-size:38px" fill="#000" stroke="#000" stroke-width="0.2" textLength="25.95" lengthAdjust="spacingAndGlyphs" >D</text>
</svg></body></html>
